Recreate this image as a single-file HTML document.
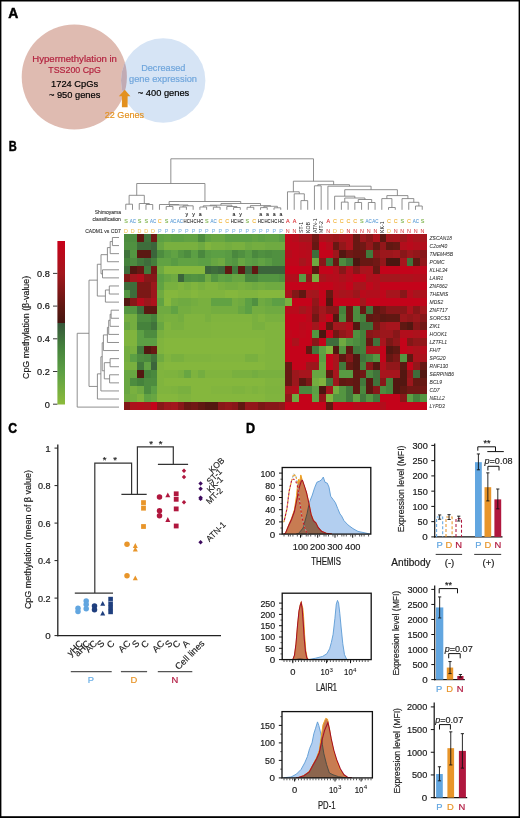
<!DOCTYPE html><html><head><meta charset="utf-8"><style>html,body{margin:0;padding:0;background:#fff;width:520px;height:818px;overflow:hidden}</style></head><body><svg width="520" height="818" viewBox="0 0 520 818" style="position:absolute;left:0;top:0;will-change:transform">
<g font-family='"Liberation Sans", sans-serif'>
<text x="8.2" y="17.8" font-size="13.9" fill="#000" text-anchor="start" font-weight="bold" font-style="normal" stroke="#000" stroke-width="0.45">A</text>
<defs><clipPath id="cl"><circle cx="74.3" cy="77" r="52.6"/></clipPath></defs>
<circle cx="74.3" cy="77" r="52.6" fill="#dfbbb1"/>
<circle cx="163.2" cy="80.5" r="42.2" fill="#d6e4f5"/>
<circle cx="163.2" cy="80.5" r="42.2" fill="#c1abb4" clip-path="url(#cl)"/>
<text x="74.6" y="61.9" font-size="9.5" fill="#b3223f" text-anchor="middle" font-weight="normal" font-style="normal" stroke="#b3223f" stroke-width="0.19" textLength="84.6" lengthAdjust="spacingAndGlyphs">Hypermethylation in</text>
<text x="74.6" y="72.8" font-size="9.5" fill="#b3223f" text-anchor="middle" font-weight="normal" font-style="normal" stroke="#b3223f" stroke-width="0.19" textLength="52.5" lengthAdjust="spacingAndGlyphs">TSS200 CpG</text>
<text x="74.6" y="87.1" font-size="9.4" fill="#000" text-anchor="middle" font-weight="normal" font-style="normal" stroke="#000" stroke-width="0.188" textLength="47" lengthAdjust="spacingAndGlyphs">1724 CpGs</text>
<text x="74.6" y="97.7" font-size="9.4" fill="#000" text-anchor="middle" font-weight="normal" font-style="normal" stroke="#000" stroke-width="0.188" textLength="51.4" lengthAdjust="spacingAndGlyphs">~ 950 genes</text>
<text x="163.3" y="70.9" font-size="9.5" fill="#70a6dc" text-anchor="middle" font-weight="normal" font-style="normal" stroke="#70a6dc" stroke-width="0.19" textLength="44.3" lengthAdjust="spacingAndGlyphs">Decreased</text>
<text x="163" y="81.8" font-size="9.5" fill="#70a6dc" text-anchor="middle" font-weight="normal" font-style="normal" stroke="#70a6dc" stroke-width="0.19" textLength="68" lengthAdjust="spacingAndGlyphs">gene expression</text>
<text x="163.5" y="95.7" font-size="9.4" fill="#000" text-anchor="middle" font-weight="normal" font-style="normal" stroke="#000" stroke-width="0.188" textLength="51.4" lengthAdjust="spacingAndGlyphs">~ 400 genes</text>
<path d="M124.8 89.8 L130.4 96.2 L127.6 96.2 L127.6 107.3 L121.9 107.3 L121.9 96.2 L118.8 96.2 Z" stroke="none" fill="#e3911f" stroke-width="1" />
<text x="124.4" y="117.8" font-size="9.5" fill="#e3911f" text-anchor="middle" font-weight="normal" font-style="normal" stroke="#e3911f" stroke-width="0.19" textLength="39.2" lengthAdjust="spacingAndGlyphs">22 Genes</text>
<text x="8.8" y="151.4" font-size="13.9" fill="#000" text-anchor="start" font-weight="bold" font-style="normal" stroke="#000" stroke-width="0.45" textLength="8.0" lengthAdjust="spacingAndGlyphs">B</text>
<g shape-rendering="crispEdges">
<rect x="123.70" y="234.00" width="7.04" height="8.29" fill="#4d8c3f"/>
<rect x="130.44" y="234.00" width="7.04" height="8.29" fill="#4d8c3f"/>
<rect x="137.18" y="234.00" width="7.04" height="8.29" fill="#601812"/>
<rect x="143.91" y="234.00" width="7.04" height="8.29" fill="#40733b"/>
<rect x="150.65" y="234.00" width="7.04" height="8.29" fill="#711815"/>
<rect x="157.39" y="234.00" width="7.04" height="8.29" fill="#5c9f44"/>
<rect x="164.13" y="234.00" width="7.04" height="8.29" fill="#61a243"/>
<rect x="170.86" y="234.00" width="7.04" height="8.29" fill="#5c9f44"/>
<rect x="177.60" y="234.00" width="7.04" height="8.29" fill="#5c9f44"/>
<rect x="184.34" y="234.00" width="7.04" height="8.29" fill="#61a243"/>
<rect x="191.08" y="234.00" width="7.04" height="8.29" fill="#61a243"/>
<rect x="197.82" y="234.00" width="7.04" height="8.29" fill="#4d8c3f"/>
<rect x="204.55" y="234.00" width="7.04" height="8.29" fill="#61a243"/>
<rect x="211.29" y="234.00" width="7.04" height="8.29" fill="#68a642"/>
<rect x="218.03" y="234.00" width="7.04" height="8.29" fill="#68a642"/>
<rect x="224.77" y="234.00" width="7.04" height="8.29" fill="#5c9f44"/>
<rect x="231.50" y="234.00" width="7.04" height="8.29" fill="#5c9f44"/>
<rect x="238.24" y="234.00" width="7.04" height="8.29" fill="#5c9f44"/>
<rect x="244.98" y="234.00" width="7.04" height="8.29" fill="#5c9f44"/>
<rect x="251.72" y="234.00" width="7.04" height="8.29" fill="#61a243"/>
<rect x="258.46" y="234.00" width="7.04" height="8.29" fill="#5c9f44"/>
<rect x="265.19" y="234.00" width="7.04" height="8.29" fill="#61a243"/>
<rect x="271.93" y="234.00" width="7.04" height="8.29" fill="#61a243"/>
<rect x="278.67" y="234.00" width="7.04" height="8.29" fill="#599b43"/>
<rect x="285.41" y="234.00" width="7.04" height="8.29" fill="#bf071b"/>
<rect x="292.14" y="234.00" width="7.04" height="8.29" fill="#b60c1c"/>
<rect x="298.88" y="234.00" width="7.04" height="8.29" fill="#a3171d"/>
<rect x="305.62" y="234.00" width="7.04" height="8.29" fill="#a3171d"/>
<rect x="312.36" y="234.00" width="7.04" height="8.29" fill="#711815"/>
<rect x="319.10" y="234.00" width="7.04" height="8.29" fill="#ac121c"/>
<rect x="325.83" y="234.00" width="7.04" height="8.29" fill="#a3171d"/>
<rect x="332.57" y="234.00" width="7.04" height="8.29" fill="#9c171c"/>
<rect x="339.31" y="234.00" width="7.04" height="8.29" fill="#a7151d"/>
<rect x="346.05" y="234.00" width="7.04" height="8.29" fill="#ac121c"/>
<rect x="352.78" y="234.00" width="7.04" height="8.29" fill="#671813"/>
<rect x="359.52" y="234.00" width="7.04" height="8.29" fill="#9c171c"/>
<rect x="366.26" y="234.00" width="7.04" height="8.29" fill="#881719"/>
<rect x="373.00" y="234.00" width="7.04" height="8.29" fill="#ac121c"/>
<rect x="379.74" y="234.00" width="7.04" height="8.29" fill="#5b1812"/>
<rect x="386.47" y="234.00" width="7.04" height="8.29" fill="#a3171d"/>
<rect x="393.21" y="234.00" width="7.04" height="8.29" fill="#a7151d"/>
<rect x="399.95" y="234.00" width="7.04" height="8.29" fill="#9c171c"/>
<rect x="406.69" y="234.00" width="7.04" height="8.29" fill="#b20e1c"/>
<rect x="413.42" y="234.00" width="7.04" height="8.29" fill="#a7151d"/>
<rect x="420.16" y="234.00" width="7.04" height="8.29" fill="#a7151d"/>
<rect x="123.70" y="241.99" width="7.04" height="8.29" fill="#509040"/>
<rect x="130.44" y="241.99" width="7.04" height="8.29" fill="#509040"/>
<rect x="137.18" y="241.99" width="7.04" height="8.29" fill="#3e6d3b"/>
<rect x="143.91" y="241.99" width="7.04" height="8.29" fill="#3e6d3b"/>
<rect x="150.65" y="241.99" width="7.04" height="8.29" fill="#3b653b"/>
<rect x="157.39" y="241.99" width="7.04" height="8.29" fill="#68a642"/>
<rect x="164.13" y="241.99" width="7.04" height="8.29" fill="#79b03f"/>
<rect x="170.86" y="241.99" width="7.04" height="8.29" fill="#79b03f"/>
<rect x="177.60" y="241.99" width="7.04" height="8.29" fill="#79b03f"/>
<rect x="184.34" y="241.99" width="7.04" height="8.29" fill="#79b03f"/>
<rect x="191.08" y="241.99" width="7.04" height="8.29" fill="#79b03f"/>
<rect x="197.82" y="241.99" width="7.04" height="8.29" fill="#6faa41"/>
<rect x="204.55" y="241.99" width="7.04" height="8.29" fill="#80b43e"/>
<rect x="211.29" y="241.99" width="7.04" height="8.29" fill="#79b03f"/>
<rect x="218.03" y="241.99" width="7.04" height="8.29" fill="#79b03f"/>
<rect x="224.77" y="241.99" width="7.04" height="8.29" fill="#74ad40"/>
<rect x="231.50" y="241.99" width="7.04" height="8.29" fill="#79b03f"/>
<rect x="238.24" y="241.99" width="7.04" height="8.29" fill="#79b03f"/>
<rect x="244.98" y="241.99" width="7.04" height="8.29" fill="#6faa41"/>
<rect x="251.72" y="241.99" width="7.04" height="8.29" fill="#74ad40"/>
<rect x="258.46" y="241.99" width="7.04" height="8.29" fill="#74ad40"/>
<rect x="265.19" y="241.99" width="7.04" height="8.29" fill="#6faa41"/>
<rect x="271.93" y="241.99" width="7.04" height="8.29" fill="#6faa41"/>
<rect x="278.67" y="241.99" width="7.04" height="8.29" fill="#6faa41"/>
<rect x="285.41" y="241.99" width="7.04" height="8.29" fill="#bf071b"/>
<rect x="292.14" y="241.99" width="7.04" height="8.29" fill="#bf071b"/>
<rect x="298.88" y="241.99" width="7.04" height="8.29" fill="#b60c1c"/>
<rect x="305.62" y="241.99" width="7.04" height="8.29" fill="#b20e1c"/>
<rect x="312.36" y="241.99" width="7.04" height="8.29" fill="#671813"/>
<rect x="319.10" y="241.99" width="7.04" height="8.29" fill="#c4031a"/>
<rect x="325.83" y="241.99" width="7.04" height="8.29" fill="#b60c1c"/>
<rect x="332.57" y="241.99" width="7.04" height="8.29" fill="#671813"/>
<rect x="339.31" y="241.99" width="7.04" height="8.29" fill="#92171a"/>
<rect x="346.05" y="241.99" width="7.04" height="8.29" fill="#ac121c"/>
<rect x="352.78" y="241.99" width="7.04" height="8.29" fill="#671813"/>
<rect x="359.52" y="241.99" width="7.04" height="8.29" fill="#711815"/>
<rect x="366.26" y="241.99" width="7.04" height="8.29" fill="#92171a"/>
<rect x="373.00" y="241.99" width="7.04" height="8.29" fill="#671813"/>
<rect x="379.74" y="241.99" width="7.04" height="8.29" fill="#92171a"/>
<rect x="386.47" y="241.99" width="7.04" height="8.29" fill="#601812"/>
<rect x="393.21" y="241.99" width="7.04" height="8.29" fill="#671813"/>
<rect x="399.95" y="241.99" width="7.04" height="8.29" fill="#b20e1c"/>
<rect x="406.69" y="241.99" width="7.04" height="8.29" fill="#b90a1b"/>
<rect x="413.42" y="241.99" width="7.04" height="8.29" fill="#b20e1c"/>
<rect x="420.16" y="241.99" width="7.04" height="8.29" fill="#b20e1c"/>
<rect x="123.70" y="249.97" width="7.04" height="8.29" fill="#40733b"/>
<rect x="130.44" y="249.97" width="7.04" height="8.29" fill="#549541"/>
<rect x="137.18" y="249.97" width="7.04" height="8.29" fill="#5b1812"/>
<rect x="143.91" y="249.97" width="7.04" height="8.29" fill="#5b1812"/>
<rect x="150.65" y="249.97" width="7.04" height="8.29" fill="#3b653b"/>
<rect x="157.39" y="249.97" width="7.04" height="8.29" fill="#4d8c3f"/>
<rect x="164.13" y="249.97" width="7.04" height="8.29" fill="#599b43"/>
<rect x="170.86" y="249.97" width="7.04" height="8.29" fill="#61a243"/>
<rect x="177.60" y="249.97" width="7.04" height="8.29" fill="#549541"/>
<rect x="184.34" y="249.97" width="7.04" height="8.29" fill="#4d8c3f"/>
<rect x="191.08" y="249.97" width="7.04" height="8.29" fill="#5c9f44"/>
<rect x="197.82" y="249.97" width="7.04" height="8.29" fill="#4a883e"/>
<rect x="204.55" y="249.97" width="7.04" height="8.29" fill="#599b43"/>
<rect x="211.29" y="249.97" width="7.04" height="8.29" fill="#5c9f44"/>
<rect x="218.03" y="249.97" width="7.04" height="8.29" fill="#5c9f44"/>
<rect x="224.77" y="249.97" width="7.04" height="8.29" fill="#599b43"/>
<rect x="231.50" y="249.97" width="7.04" height="8.29" fill="#4a883e"/>
<rect x="238.24" y="249.97" width="7.04" height="8.29" fill="#509040"/>
<rect x="244.98" y="249.97" width="7.04" height="8.29" fill="#599b43"/>
<rect x="251.72" y="249.97" width="7.04" height="8.29" fill="#4a883e"/>
<rect x="258.46" y="249.97" width="7.04" height="8.29" fill="#509040"/>
<rect x="265.19" y="249.97" width="7.04" height="8.29" fill="#4d8c3f"/>
<rect x="271.93" y="249.97" width="7.04" height="8.29" fill="#509040"/>
<rect x="278.67" y="249.97" width="7.04" height="8.29" fill="#509040"/>
<rect x="285.41" y="249.97" width="7.04" height="8.29" fill="#b60c1c"/>
<rect x="292.14" y="249.97" width="7.04" height="8.29" fill="#bf071b"/>
<rect x="298.88" y="249.97" width="7.04" height="8.29" fill="#b90a1b"/>
<rect x="305.62" y="249.97" width="7.04" height="8.29" fill="#b60c1c"/>
<rect x="312.36" y="249.97" width="7.04" height="8.29" fill="#3e6d3b"/>
<rect x="319.10" y="249.97" width="7.04" height="8.29" fill="#c4031a"/>
<rect x="325.83" y="249.97" width="7.04" height="8.29" fill="#c4031a"/>
<rect x="332.57" y="249.97" width="7.04" height="8.29" fill="#9c171c"/>
<rect x="339.31" y="249.97" width="7.04" height="8.29" fill="#531711"/>
<rect x="346.05" y="249.97" width="7.04" height="8.29" fill="#711815"/>
<rect x="352.78" y="249.97" width="7.04" height="8.29" fill="#671813"/>
<rect x="359.52" y="249.97" width="7.04" height="8.29" fill="#671813"/>
<rect x="366.26" y="249.97" width="7.04" height="8.29" fill="#42793c"/>
<rect x="373.00" y="249.97" width="7.04" height="8.29" fill="#881719"/>
<rect x="379.74" y="249.97" width="7.04" height="8.29" fill="#9c171c"/>
<rect x="386.47" y="249.97" width="7.04" height="8.29" fill="#9c171c"/>
<rect x="393.21" y="249.97" width="7.04" height="8.29" fill="#a3171d"/>
<rect x="399.95" y="249.97" width="7.04" height="8.29" fill="#881719"/>
<rect x="406.69" y="249.97" width="7.04" height="8.29" fill="#9c171c"/>
<rect x="413.42" y="249.97" width="7.04" height="8.29" fill="#92171a"/>
<rect x="420.16" y="249.97" width="7.04" height="8.29" fill="#881719"/>
<rect x="123.70" y="257.96" width="7.04" height="8.29" fill="#45823c"/>
<rect x="130.44" y="257.96" width="7.04" height="8.29" fill="#4d8c3f"/>
<rect x="137.18" y="257.96" width="7.04" height="8.29" fill="#42793c"/>
<rect x="143.91" y="257.96" width="7.04" height="8.29" fill="#3e6d3b"/>
<rect x="150.65" y="257.96" width="7.04" height="8.29" fill="#447f3c"/>
<rect x="157.39" y="257.96" width="7.04" height="8.29" fill="#61a243"/>
<rect x="164.13" y="257.96" width="7.04" height="8.29" fill="#61a243"/>
<rect x="170.86" y="257.96" width="7.04" height="8.29" fill="#599b43"/>
<rect x="177.60" y="257.96" width="7.04" height="8.29" fill="#61a243"/>
<rect x="184.34" y="257.96" width="7.04" height="8.29" fill="#61a243"/>
<rect x="191.08" y="257.96" width="7.04" height="8.29" fill="#61a243"/>
<rect x="197.82" y="257.96" width="7.04" height="8.29" fill="#5c9f44"/>
<rect x="204.55" y="257.96" width="7.04" height="8.29" fill="#5c9f44"/>
<rect x="211.29" y="257.96" width="7.04" height="8.29" fill="#68a642"/>
<rect x="218.03" y="257.96" width="7.04" height="8.29" fill="#6faa41"/>
<rect x="224.77" y="257.96" width="7.04" height="8.29" fill="#599b43"/>
<rect x="231.50" y="257.96" width="7.04" height="8.29" fill="#549541"/>
<rect x="238.24" y="257.96" width="7.04" height="8.29" fill="#68a642"/>
<rect x="244.98" y="257.96" width="7.04" height="8.29" fill="#5c9f44"/>
<rect x="251.72" y="257.96" width="7.04" height="8.29" fill="#599b43"/>
<rect x="258.46" y="257.96" width="7.04" height="8.29" fill="#61a243"/>
<rect x="265.19" y="257.96" width="7.04" height="8.29" fill="#599b43"/>
<rect x="271.93" y="257.96" width="7.04" height="8.29" fill="#509040"/>
<rect x="278.67" y="257.96" width="7.04" height="8.29" fill="#509040"/>
<rect x="285.41" y="257.96" width="7.04" height="8.29" fill="#bf071b"/>
<rect x="292.14" y="257.96" width="7.04" height="8.29" fill="#bf071b"/>
<rect x="298.88" y="257.96" width="7.04" height="8.29" fill="#a7151d"/>
<rect x="305.62" y="257.96" width="7.04" height="8.29" fill="#b60c1c"/>
<rect x="312.36" y="257.96" width="7.04" height="8.29" fill="#6faa41"/>
<rect x="319.10" y="257.96" width="7.04" height="8.29" fill="#881719"/>
<rect x="325.83" y="257.96" width="7.04" height="8.29" fill="#40733b"/>
<rect x="332.57" y="257.96" width="7.04" height="8.29" fill="#671813"/>
<rect x="339.31" y="257.96" width="7.04" height="8.29" fill="#4d8c3f"/>
<rect x="346.05" y="257.96" width="7.04" height="8.29" fill="#40733b"/>
<rect x="352.78" y="257.96" width="7.04" height="8.29" fill="#4b1610"/>
<rect x="359.52" y="257.96" width="7.04" height="8.29" fill="#671813"/>
<rect x="366.26" y="257.96" width="7.04" height="8.29" fill="#671813"/>
<rect x="373.00" y="257.96" width="7.04" height="8.29" fill="#711815"/>
<rect x="379.74" y="257.96" width="7.04" height="8.29" fill="#92171a"/>
<rect x="386.47" y="257.96" width="7.04" height="8.29" fill="#4b1610"/>
<rect x="393.21" y="257.96" width="7.04" height="8.29" fill="#4b1610"/>
<rect x="399.95" y="257.96" width="7.04" height="8.29" fill="#a7151d"/>
<rect x="406.69" y="257.96" width="7.04" height="8.29" fill="#40733b"/>
<rect x="413.42" y="257.96" width="7.04" height="8.29" fill="#601812"/>
<rect x="420.16" y="257.96" width="7.04" height="8.29" fill="#92171a"/>
<rect x="123.70" y="265.95" width="7.04" height="8.29" fill="#3e6d3b"/>
<rect x="130.44" y="265.95" width="7.04" height="8.29" fill="#531711"/>
<rect x="137.18" y="265.95" width="7.04" height="8.29" fill="#671813"/>
<rect x="143.91" y="265.95" width="7.04" height="8.29" fill="#42793c"/>
<rect x="150.65" y="265.95" width="7.04" height="8.29" fill="#711815"/>
<rect x="157.39" y="265.95" width="7.04" height="8.29" fill="#6faa41"/>
<rect x="164.13" y="265.95" width="7.04" height="8.29" fill="#85b73d"/>
<rect x="170.86" y="265.95" width="7.04" height="8.29" fill="#85b73d"/>
<rect x="177.60" y="265.95" width="7.04" height="8.29" fill="#85b73d"/>
<rect x="184.34" y="265.95" width="7.04" height="8.29" fill="#85b73d"/>
<rect x="191.08" y="265.95" width="7.04" height="8.29" fill="#85b73d"/>
<rect x="197.82" y="265.95" width="7.04" height="8.29" fill="#85b73d"/>
<rect x="204.55" y="265.95" width="7.04" height="8.29" fill="#3b653b"/>
<rect x="211.29" y="265.95" width="7.04" height="8.29" fill="#3e6d3b"/>
<rect x="218.03" y="265.95" width="7.04" height="8.29" fill="#3b653b"/>
<rect x="224.77" y="265.95" width="7.04" height="8.29" fill="#601812"/>
<rect x="231.50" y="265.95" width="7.04" height="8.29" fill="#42793c"/>
<rect x="238.24" y="265.95" width="7.04" height="8.29" fill="#5b1812"/>
<rect x="244.98" y="265.95" width="7.04" height="8.29" fill="#3b653b"/>
<rect x="251.72" y="265.95" width="7.04" height="8.29" fill="#601812"/>
<rect x="258.46" y="265.95" width="7.04" height="8.29" fill="#3b653b"/>
<rect x="265.19" y="265.95" width="7.04" height="8.29" fill="#3b653b"/>
<rect x="271.93" y="265.95" width="7.04" height="8.29" fill="#3b653b"/>
<rect x="278.67" y="265.95" width="7.04" height="8.29" fill="#3b653b"/>
<rect x="285.41" y="265.95" width="7.04" height="8.29" fill="#c8011a"/>
<rect x="292.14" y="265.95" width="7.04" height="8.29" fill="#c8011a"/>
<rect x="298.88" y="265.95" width="7.04" height="8.29" fill="#c4031a"/>
<rect x="305.62" y="265.95" width="7.04" height="8.29" fill="#c4031a"/>
<rect x="312.36" y="265.95" width="7.04" height="8.29" fill="#5b1812"/>
<rect x="319.10" y="265.95" width="7.04" height="8.29" fill="#c4031a"/>
<rect x="325.83" y="265.95" width="7.04" height="8.29" fill="#c4031a"/>
<rect x="332.57" y="265.95" width="7.04" height="8.29" fill="#b20e1c"/>
<rect x="339.31" y="265.95" width="7.04" height="8.29" fill="#881719"/>
<rect x="346.05" y="265.95" width="7.04" height="8.29" fill="#b20e1c"/>
<rect x="352.78" y="265.95" width="7.04" height="8.29" fill="#881719"/>
<rect x="359.52" y="265.95" width="7.04" height="8.29" fill="#a7151d"/>
<rect x="366.26" y="265.95" width="7.04" height="8.29" fill="#ac121c"/>
<rect x="373.00" y="265.95" width="7.04" height="8.29" fill="#671813"/>
<rect x="379.74" y="265.95" width="7.04" height="8.29" fill="#c4031a"/>
<rect x="386.47" y="265.95" width="7.04" height="8.29" fill="#c4031a"/>
<rect x="393.21" y="265.95" width="7.04" height="8.29" fill="#c4031a"/>
<rect x="399.95" y="265.95" width="7.04" height="8.29" fill="#c4031a"/>
<rect x="406.69" y="265.95" width="7.04" height="8.29" fill="#c4031a"/>
<rect x="413.42" y="265.95" width="7.04" height="8.29" fill="#bf071b"/>
<rect x="420.16" y="265.95" width="7.04" height="8.29" fill="#bf071b"/>
<rect x="123.70" y="273.93" width="7.04" height="8.29" fill="#811817"/>
<rect x="130.44" y="273.93" width="7.04" height="8.29" fill="#a3171d"/>
<rect x="137.18" y="273.93" width="7.04" height="8.29" fill="#b20e1c"/>
<rect x="143.91" y="273.93" width="7.04" height="8.29" fill="#881719"/>
<rect x="150.65" y="273.93" width="7.04" height="8.29" fill="#881719"/>
<rect x="157.39" y="273.93" width="7.04" height="8.29" fill="#5c9f44"/>
<rect x="164.13" y="273.93" width="7.04" height="8.29" fill="#68a642"/>
<rect x="170.86" y="273.93" width="7.04" height="8.29" fill="#6faa41"/>
<rect x="177.60" y="273.93" width="7.04" height="8.29" fill="#3b653b"/>
<rect x="184.34" y="273.93" width="7.04" height="8.29" fill="#509040"/>
<rect x="191.08" y="273.93" width="7.04" height="8.29" fill="#539341"/>
<rect x="197.82" y="273.93" width="7.04" height="8.29" fill="#509040"/>
<rect x="204.55" y="273.93" width="7.04" height="8.29" fill="#6faa41"/>
<rect x="211.29" y="273.93" width="7.04" height="8.29" fill="#549541"/>
<rect x="218.03" y="273.93" width="7.04" height="8.29" fill="#61a243"/>
<rect x="224.77" y="273.93" width="7.04" height="8.29" fill="#5c9f44"/>
<rect x="231.50" y="273.93" width="7.04" height="8.29" fill="#68a642"/>
<rect x="238.24" y="273.93" width="7.04" height="8.29" fill="#68a642"/>
<rect x="244.98" y="273.93" width="7.04" height="8.29" fill="#4a883e"/>
<rect x="251.72" y="273.93" width="7.04" height="8.29" fill="#4a883e"/>
<rect x="258.46" y="273.93" width="7.04" height="8.29" fill="#549541"/>
<rect x="265.19" y="273.93" width="7.04" height="8.29" fill="#549541"/>
<rect x="271.93" y="273.93" width="7.04" height="8.29" fill="#549541"/>
<rect x="278.67" y="273.93" width="7.04" height="8.29" fill="#509040"/>
<rect x="285.41" y="273.93" width="7.04" height="8.29" fill="#b20e1c"/>
<rect x="292.14" y="273.93" width="7.04" height="8.29" fill="#b20e1c"/>
<rect x="298.88" y="273.93" width="7.04" height="8.29" fill="#599b43"/>
<rect x="305.62" y="273.93" width="7.04" height="8.29" fill="#92171a"/>
<rect x="312.36" y="273.93" width="7.04" height="8.29" fill="#79b03f"/>
<rect x="319.10" y="273.93" width="7.04" height="8.29" fill="#a7151d"/>
<rect x="325.83" y="273.93" width="7.04" height="8.29" fill="#b20e1c"/>
<rect x="332.57" y="273.93" width="7.04" height="8.29" fill="#b60c1c"/>
<rect x="339.31" y="273.93" width="7.04" height="8.29" fill="#ac121c"/>
<rect x="346.05" y="273.93" width="7.04" height="8.29" fill="#b60c1c"/>
<rect x="352.78" y="273.93" width="7.04" height="8.29" fill="#c4031a"/>
<rect x="359.52" y="273.93" width="7.04" height="8.29" fill="#c4031a"/>
<rect x="366.26" y="273.93" width="7.04" height="8.29" fill="#ac121c"/>
<rect x="373.00" y="273.93" width="7.04" height="8.29" fill="#b20e1c"/>
<rect x="379.74" y="273.93" width="7.04" height="8.29" fill="#a3171d"/>
<rect x="386.47" y="273.93" width="7.04" height="8.29" fill="#a3171d"/>
<rect x="393.21" y="273.93" width="7.04" height="8.29" fill="#a3171d"/>
<rect x="399.95" y="273.93" width="7.04" height="8.29" fill="#ac121c"/>
<rect x="406.69" y="273.93" width="7.04" height="8.29" fill="#ac121c"/>
<rect x="413.42" y="273.93" width="7.04" height="8.29" fill="#b20e1c"/>
<rect x="420.16" y="273.93" width="7.04" height="8.29" fill="#b20e1c"/>
<rect x="123.70" y="281.92" width="7.04" height="8.29" fill="#3e6d3b"/>
<rect x="130.44" y="281.92" width="7.04" height="8.29" fill="#3e6d3b"/>
<rect x="137.18" y="281.92" width="7.04" height="8.29" fill="#7b1816"/>
<rect x="143.91" y="281.92" width="7.04" height="8.29" fill="#7b1816"/>
<rect x="150.65" y="281.92" width="7.04" height="8.29" fill="#9c171c"/>
<rect x="157.39" y="281.92" width="7.04" height="8.29" fill="#61a243"/>
<rect x="164.13" y="281.92" width="7.04" height="8.29" fill="#79b03f"/>
<rect x="170.86" y="281.92" width="7.04" height="8.29" fill="#79b03f"/>
<rect x="177.60" y="281.92" width="7.04" height="8.29" fill="#80b43e"/>
<rect x="184.34" y="281.92" width="7.04" height="8.29" fill="#79b03f"/>
<rect x="191.08" y="281.92" width="7.04" height="8.29" fill="#80b43e"/>
<rect x="197.82" y="281.92" width="7.04" height="8.29" fill="#79b03f"/>
<rect x="204.55" y="281.92" width="7.04" height="8.29" fill="#80b43e"/>
<rect x="211.29" y="281.92" width="7.04" height="8.29" fill="#80b43e"/>
<rect x="218.03" y="281.92" width="7.04" height="8.29" fill="#79b03f"/>
<rect x="224.77" y="281.92" width="7.04" height="8.29" fill="#74ad40"/>
<rect x="231.50" y="281.92" width="7.04" height="8.29" fill="#74ad40"/>
<rect x="238.24" y="281.92" width="7.04" height="8.29" fill="#79b03f"/>
<rect x="244.98" y="281.92" width="7.04" height="8.29" fill="#74ad40"/>
<rect x="251.72" y="281.92" width="7.04" height="8.29" fill="#6faa41"/>
<rect x="258.46" y="281.92" width="7.04" height="8.29" fill="#74ad40"/>
<rect x="265.19" y="281.92" width="7.04" height="8.29" fill="#6faa41"/>
<rect x="271.93" y="281.92" width="7.04" height="8.29" fill="#6faa41"/>
<rect x="278.67" y="281.92" width="7.04" height="8.29" fill="#6faa41"/>
<rect x="285.41" y="281.92" width="7.04" height="8.29" fill="#c4031a"/>
<rect x="292.14" y="281.92" width="7.04" height="8.29" fill="#c4031a"/>
<rect x="298.88" y="281.92" width="7.04" height="8.29" fill="#c4031a"/>
<rect x="305.62" y="281.92" width="7.04" height="8.29" fill="#c4031a"/>
<rect x="312.36" y="281.92" width="7.04" height="8.29" fill="#bf071b"/>
<rect x="319.10" y="281.92" width="7.04" height="8.29" fill="#c4031a"/>
<rect x="325.83" y="281.92" width="7.04" height="8.29" fill="#c4031a"/>
<rect x="332.57" y="281.92" width="7.04" height="8.29" fill="#b90a1b"/>
<rect x="339.31" y="281.92" width="7.04" height="8.29" fill="#b60c1c"/>
<rect x="346.05" y="281.92" width="7.04" height="8.29" fill="#c4031a"/>
<rect x="352.78" y="281.92" width="7.04" height="8.29" fill="#a7151d"/>
<rect x="359.52" y="281.92" width="7.04" height="8.29" fill="#a7151d"/>
<rect x="366.26" y="281.92" width="7.04" height="8.29" fill="#bf071b"/>
<rect x="373.00" y="281.92" width="7.04" height="8.29" fill="#b20e1c"/>
<rect x="379.74" y="281.92" width="7.04" height="8.29" fill="#c4031a"/>
<rect x="386.47" y="281.92" width="7.04" height="8.29" fill="#c4031a"/>
<rect x="393.21" y="281.92" width="7.04" height="8.29" fill="#c4031a"/>
<rect x="399.95" y="281.92" width="7.04" height="8.29" fill="#c4031a"/>
<rect x="406.69" y="281.92" width="7.04" height="8.29" fill="#c4031a"/>
<rect x="413.42" y="281.92" width="7.04" height="8.29" fill="#c4031a"/>
<rect x="420.16" y="281.92" width="7.04" height="8.29" fill="#c4031a"/>
<rect x="123.70" y="289.90" width="7.04" height="8.29" fill="#549541"/>
<rect x="130.44" y="289.90" width="7.04" height="8.29" fill="#3e6d3b"/>
<rect x="137.18" y="289.90" width="7.04" height="8.29" fill="#7b1816"/>
<rect x="143.91" y="289.90" width="7.04" height="8.29" fill="#7b1816"/>
<rect x="150.65" y="289.90" width="7.04" height="8.29" fill="#9c171c"/>
<rect x="157.39" y="289.90" width="7.04" height="8.29" fill="#6faa41"/>
<rect x="164.13" y="289.90" width="7.04" height="8.29" fill="#85b73d"/>
<rect x="170.86" y="289.90" width="7.04" height="8.29" fill="#85b73d"/>
<rect x="177.60" y="289.90" width="7.04" height="8.29" fill="#80b43e"/>
<rect x="184.34" y="289.90" width="7.04" height="8.29" fill="#80b43e"/>
<rect x="191.08" y="289.90" width="7.04" height="8.29" fill="#85b73d"/>
<rect x="197.82" y="289.90" width="7.04" height="8.29" fill="#80b43e"/>
<rect x="204.55" y="289.90" width="7.04" height="8.29" fill="#80b43e"/>
<rect x="211.29" y="289.90" width="7.04" height="8.29" fill="#80b43e"/>
<rect x="218.03" y="289.90" width="7.04" height="8.29" fill="#80b43e"/>
<rect x="224.77" y="289.90" width="7.04" height="8.29" fill="#85b73d"/>
<rect x="231.50" y="289.90" width="7.04" height="8.29" fill="#85b73d"/>
<rect x="238.24" y="289.90" width="7.04" height="8.29" fill="#80b43e"/>
<rect x="244.98" y="289.90" width="7.04" height="8.29" fill="#80b43e"/>
<rect x="251.72" y="289.90" width="7.04" height="8.29" fill="#80b43e"/>
<rect x="258.46" y="289.90" width="7.04" height="8.29" fill="#85b73d"/>
<rect x="265.19" y="289.90" width="7.04" height="8.29" fill="#85b73d"/>
<rect x="271.93" y="289.90" width="7.04" height="8.29" fill="#85b73d"/>
<rect x="278.67" y="289.90" width="7.04" height="8.29" fill="#85b73d"/>
<rect x="285.41" y="289.90" width="7.04" height="8.29" fill="#ac121c"/>
<rect x="292.14" y="289.90" width="7.04" height="8.29" fill="#811817"/>
<rect x="298.88" y="289.90" width="7.04" height="8.29" fill="#601812"/>
<rect x="305.62" y="289.90" width="7.04" height="8.29" fill="#a7151d"/>
<rect x="312.36" y="289.90" width="7.04" height="8.29" fill="#a3171d"/>
<rect x="319.10" y="289.90" width="7.04" height="8.29" fill="#c4031a"/>
<rect x="325.83" y="289.90" width="7.04" height="8.29" fill="#671813"/>
<rect x="332.57" y="289.90" width="7.04" height="8.29" fill="#b20e1c"/>
<rect x="339.31" y="289.90" width="7.04" height="8.29" fill="#a7151d"/>
<rect x="346.05" y="289.90" width="7.04" height="8.29" fill="#ac121c"/>
<rect x="352.78" y="289.90" width="7.04" height="8.29" fill="#9c171c"/>
<rect x="359.52" y="289.90" width="7.04" height="8.29" fill="#b90a1b"/>
<rect x="366.26" y="289.90" width="7.04" height="8.29" fill="#b20e1c"/>
<rect x="373.00" y="289.90" width="7.04" height="8.29" fill="#b20e1c"/>
<rect x="379.74" y="289.90" width="7.04" height="8.29" fill="#bf071b"/>
<rect x="386.47" y="289.90" width="7.04" height="8.29" fill="#a7151d"/>
<rect x="393.21" y="289.90" width="7.04" height="8.29" fill="#a7151d"/>
<rect x="399.95" y="289.90" width="7.04" height="8.29" fill="#881719"/>
<rect x="406.69" y="289.90" width="7.04" height="8.29" fill="#b60c1c"/>
<rect x="413.42" y="289.90" width="7.04" height="8.29" fill="#a7151d"/>
<rect x="420.16" y="289.90" width="7.04" height="8.29" fill="#ac121c"/>
<rect x="123.70" y="297.89" width="7.04" height="8.29" fill="#531711"/>
<rect x="130.44" y="297.89" width="7.04" height="8.29" fill="#881719"/>
<rect x="137.18" y="297.89" width="7.04" height="8.29" fill="#b60c1c"/>
<rect x="143.91" y="297.89" width="7.04" height="8.29" fill="#9c171c"/>
<rect x="150.65" y="297.89" width="7.04" height="8.29" fill="#ac121c"/>
<rect x="157.39" y="297.89" width="7.04" height="8.29" fill="#61a243"/>
<rect x="164.13" y="297.89" width="7.04" height="8.29" fill="#87b83d"/>
<rect x="170.86" y="297.89" width="7.04" height="8.29" fill="#74ad40"/>
<rect x="177.60" y="297.89" width="7.04" height="8.29" fill="#6faa41"/>
<rect x="184.34" y="297.89" width="7.04" height="8.29" fill="#6faa41"/>
<rect x="191.08" y="297.89" width="7.04" height="8.29" fill="#74ad40"/>
<rect x="197.82" y="297.89" width="7.04" height="8.29" fill="#79b03f"/>
<rect x="204.55" y="297.89" width="7.04" height="8.29" fill="#79b03f"/>
<rect x="211.29" y="297.89" width="7.04" height="8.29" fill="#61a243"/>
<rect x="218.03" y="297.89" width="7.04" height="8.29" fill="#61a243"/>
<rect x="224.77" y="297.89" width="7.04" height="8.29" fill="#61a243"/>
<rect x="231.50" y="297.89" width="7.04" height="8.29" fill="#74ad40"/>
<rect x="238.24" y="297.89" width="7.04" height="8.29" fill="#6faa41"/>
<rect x="244.98" y="297.89" width="7.04" height="8.29" fill="#5c9f44"/>
<rect x="251.72" y="297.89" width="7.04" height="8.29" fill="#509040"/>
<rect x="258.46" y="297.89" width="7.04" height="8.29" fill="#6faa41"/>
<rect x="265.19" y="297.89" width="7.04" height="8.29" fill="#68a642"/>
<rect x="271.93" y="297.89" width="7.04" height="8.29" fill="#5c9f44"/>
<rect x="278.67" y="297.89" width="7.04" height="8.29" fill="#5c9f44"/>
<rect x="285.41" y="297.89" width="7.04" height="8.29" fill="#79b03f"/>
<rect x="292.14" y="297.89" width="7.04" height="8.29" fill="#c4031a"/>
<rect x="298.88" y="297.89" width="7.04" height="8.29" fill="#c4031a"/>
<rect x="305.62" y="297.89" width="7.04" height="8.29" fill="#c4031a"/>
<rect x="312.36" y="297.89" width="7.04" height="8.29" fill="#92171a"/>
<rect x="319.10" y="297.89" width="7.04" height="8.29" fill="#c4031a"/>
<rect x="325.83" y="297.89" width="7.04" height="8.29" fill="#531711"/>
<rect x="332.57" y="297.89" width="7.04" height="8.29" fill="#c4031a"/>
<rect x="339.31" y="297.89" width="7.04" height="8.29" fill="#c4031a"/>
<rect x="346.05" y="297.89" width="7.04" height="8.29" fill="#c4031a"/>
<rect x="352.78" y="297.89" width="7.04" height="8.29" fill="#c4031a"/>
<rect x="359.52" y="297.89" width="7.04" height="8.29" fill="#a3171d"/>
<rect x="366.26" y="297.89" width="7.04" height="8.29" fill="#c4031a"/>
<rect x="373.00" y="297.89" width="7.04" height="8.29" fill="#c4031a"/>
<rect x="379.74" y="297.89" width="7.04" height="8.29" fill="#c4031a"/>
<rect x="386.47" y="297.89" width="7.04" height="8.29" fill="#c4031a"/>
<rect x="393.21" y="297.89" width="7.04" height="8.29" fill="#c4031a"/>
<rect x="399.95" y="297.89" width="7.04" height="8.29" fill="#c4031a"/>
<rect x="406.69" y="297.89" width="7.04" height="8.29" fill="#c4031a"/>
<rect x="413.42" y="297.89" width="7.04" height="8.29" fill="#c4031a"/>
<rect x="420.16" y="297.89" width="7.04" height="8.29" fill="#bf071b"/>
<rect x="123.70" y="305.88" width="7.04" height="8.29" fill="#549541"/>
<rect x="130.44" y="305.88" width="7.04" height="8.29" fill="#549541"/>
<rect x="137.18" y="305.88" width="7.04" height="8.29" fill="#3e6d3b"/>
<rect x="143.91" y="305.88" width="7.04" height="8.29" fill="#5b1812"/>
<rect x="150.65" y="305.88" width="7.04" height="8.29" fill="#5b1812"/>
<rect x="157.39" y="305.88" width="7.04" height="8.29" fill="#6faa41"/>
<rect x="164.13" y="305.88" width="7.04" height="8.29" fill="#6faa41"/>
<rect x="170.86" y="305.88" width="7.04" height="8.29" fill="#61a243"/>
<rect x="177.60" y="305.88" width="7.04" height="8.29" fill="#74ad40"/>
<rect x="184.34" y="305.88" width="7.04" height="8.29" fill="#74ad40"/>
<rect x="191.08" y="305.88" width="7.04" height="8.29" fill="#79b03f"/>
<rect x="197.82" y="305.88" width="7.04" height="8.29" fill="#79b03f"/>
<rect x="204.55" y="305.88" width="7.04" height="8.29" fill="#79b03f"/>
<rect x="211.29" y="305.88" width="7.04" height="8.29" fill="#74ad40"/>
<rect x="218.03" y="305.88" width="7.04" height="8.29" fill="#74ad40"/>
<rect x="224.77" y="305.88" width="7.04" height="8.29" fill="#74ad40"/>
<rect x="231.50" y="305.88" width="7.04" height="8.29" fill="#74ad40"/>
<rect x="238.24" y="305.88" width="7.04" height="8.29" fill="#68a642"/>
<rect x="244.98" y="305.88" width="7.04" height="8.29" fill="#5c9f44"/>
<rect x="251.72" y="305.88" width="7.04" height="8.29" fill="#74ad40"/>
<rect x="258.46" y="305.88" width="7.04" height="8.29" fill="#74ad40"/>
<rect x="265.19" y="305.88" width="7.04" height="8.29" fill="#6faa41"/>
<rect x="271.93" y="305.88" width="7.04" height="8.29" fill="#6faa41"/>
<rect x="278.67" y="305.88" width="7.04" height="8.29" fill="#6faa41"/>
<rect x="285.41" y="305.88" width="7.04" height="8.29" fill="#b90a1b"/>
<rect x="292.14" y="305.88" width="7.04" height="8.29" fill="#b90a1b"/>
<rect x="298.88" y="305.88" width="7.04" height="8.29" fill="#a3171d"/>
<rect x="305.62" y="305.88" width="7.04" height="8.29" fill="#b20e1c"/>
<rect x="312.36" y="305.88" width="7.04" height="8.29" fill="#881719"/>
<rect x="319.10" y="305.88" width="7.04" height="8.29" fill="#a3171d"/>
<rect x="325.83" y="305.88" width="7.04" height="8.29" fill="#881719"/>
<rect x="332.57" y="305.88" width="7.04" height="8.29" fill="#881719"/>
<rect x="339.31" y="305.88" width="7.04" height="8.29" fill="#45823c"/>
<rect x="346.05" y="305.88" width="7.04" height="8.29" fill="#671813"/>
<rect x="352.78" y="305.88" width="7.04" height="8.29" fill="#4d8c3f"/>
<rect x="359.52" y="305.88" width="7.04" height="8.29" fill="#671813"/>
<rect x="366.26" y="305.88" width="7.04" height="8.29" fill="#40733b"/>
<rect x="373.00" y="305.88" width="7.04" height="8.29" fill="#601812"/>
<rect x="379.74" y="305.88" width="7.04" height="8.29" fill="#711815"/>
<rect x="386.47" y="305.88" width="7.04" height="8.29" fill="#881719"/>
<rect x="393.21" y="305.88" width="7.04" height="8.29" fill="#881719"/>
<rect x="399.95" y="305.88" width="7.04" height="8.29" fill="#881719"/>
<rect x="406.69" y="305.88" width="7.04" height="8.29" fill="#ac121c"/>
<rect x="413.42" y="305.88" width="7.04" height="8.29" fill="#881719"/>
<rect x="420.16" y="305.88" width="7.04" height="8.29" fill="#a3171d"/>
<rect x="123.70" y="313.86" width="7.04" height="8.29" fill="#74ad40"/>
<rect x="130.44" y="313.86" width="7.04" height="8.29" fill="#74ad40"/>
<rect x="137.18" y="313.86" width="7.04" height="8.29" fill="#4d8c3f"/>
<rect x="143.91" y="313.86" width="7.04" height="8.29" fill="#4d8c3f"/>
<rect x="150.65" y="313.86" width="7.04" height="8.29" fill="#45823c"/>
<rect x="157.39" y="313.86" width="7.04" height="8.29" fill="#74ad40"/>
<rect x="164.13" y="313.86" width="7.04" height="8.29" fill="#79b03f"/>
<rect x="170.86" y="313.86" width="7.04" height="8.29" fill="#79b03f"/>
<rect x="177.60" y="313.86" width="7.04" height="8.29" fill="#74ad40"/>
<rect x="184.34" y="313.86" width="7.04" height="8.29" fill="#80b43e"/>
<rect x="191.08" y="313.86" width="7.04" height="8.29" fill="#80b43e"/>
<rect x="197.82" y="313.86" width="7.04" height="8.29" fill="#80b43e"/>
<rect x="204.55" y="313.86" width="7.04" height="8.29" fill="#79b03f"/>
<rect x="211.29" y="313.86" width="7.04" height="8.29" fill="#80b43e"/>
<rect x="218.03" y="313.86" width="7.04" height="8.29" fill="#80b43e"/>
<rect x="224.77" y="313.86" width="7.04" height="8.29" fill="#80b43e"/>
<rect x="231.50" y="313.86" width="7.04" height="8.29" fill="#80b43e"/>
<rect x="238.24" y="313.86" width="7.04" height="8.29" fill="#80b43e"/>
<rect x="244.98" y="313.86" width="7.04" height="8.29" fill="#80b43e"/>
<rect x="251.72" y="313.86" width="7.04" height="8.29" fill="#79b03f"/>
<rect x="258.46" y="313.86" width="7.04" height="8.29" fill="#80b43e"/>
<rect x="265.19" y="313.86" width="7.04" height="8.29" fill="#79b03f"/>
<rect x="271.93" y="313.86" width="7.04" height="8.29" fill="#79b03f"/>
<rect x="278.67" y="313.86" width="7.04" height="8.29" fill="#79b03f"/>
<rect x="285.41" y="313.86" width="7.04" height="8.29" fill="#c4031a"/>
<rect x="292.14" y="313.86" width="7.04" height="8.29" fill="#c4031a"/>
<rect x="298.88" y="313.86" width="7.04" height="8.29" fill="#c4031a"/>
<rect x="305.62" y="313.86" width="7.04" height="8.29" fill="#b90a1b"/>
<rect x="312.36" y="313.86" width="7.04" height="8.29" fill="#711815"/>
<rect x="319.10" y="313.86" width="7.04" height="8.29" fill="#ac121c"/>
<rect x="325.83" y="313.86" width="7.04" height="8.29" fill="#c4031a"/>
<rect x="332.57" y="313.86" width="7.04" height="8.29" fill="#531711"/>
<rect x="339.31" y="313.86" width="7.04" height="8.29" fill="#4d8c3f"/>
<rect x="346.05" y="313.86" width="7.04" height="8.29" fill="#671813"/>
<rect x="352.78" y="313.86" width="7.04" height="8.29" fill="#4d8c3f"/>
<rect x="359.52" y="313.86" width="7.04" height="8.29" fill="#45823c"/>
<rect x="366.26" y="313.86" width="7.04" height="8.29" fill="#601812"/>
<rect x="373.00" y="313.86" width="7.04" height="8.29" fill="#671813"/>
<rect x="379.74" y="313.86" width="7.04" height="8.29" fill="#5b1812"/>
<rect x="386.47" y="313.86" width="7.04" height="8.29" fill="#601812"/>
<rect x="393.21" y="313.86" width="7.04" height="8.29" fill="#601812"/>
<rect x="399.95" y="313.86" width="7.04" height="8.29" fill="#9c171c"/>
<rect x="406.69" y="313.86" width="7.04" height="8.29" fill="#92171a"/>
<rect x="413.42" y="313.86" width="7.04" height="8.29" fill="#9c171c"/>
<rect x="420.16" y="313.86" width="7.04" height="8.29" fill="#881719"/>
<rect x="123.70" y="321.85" width="7.04" height="8.29" fill="#68a642"/>
<rect x="130.44" y="321.85" width="7.04" height="8.29" fill="#74ad40"/>
<rect x="137.18" y="321.85" width="7.04" height="8.29" fill="#45823c"/>
<rect x="143.91" y="321.85" width="7.04" height="8.29" fill="#45823c"/>
<rect x="150.65" y="321.85" width="7.04" height="8.29" fill="#40733b"/>
<rect x="157.39" y="321.85" width="7.04" height="8.29" fill="#68a642"/>
<rect x="164.13" y="321.85" width="7.04" height="8.29" fill="#80b43e"/>
<rect x="170.86" y="321.85" width="7.04" height="8.29" fill="#79b03f"/>
<rect x="177.60" y="321.85" width="7.04" height="8.29" fill="#79b03f"/>
<rect x="184.34" y="321.85" width="7.04" height="8.29" fill="#80b43e"/>
<rect x="191.08" y="321.85" width="7.04" height="8.29" fill="#80b43e"/>
<rect x="197.82" y="321.85" width="7.04" height="8.29" fill="#80b43e"/>
<rect x="204.55" y="321.85" width="7.04" height="8.29" fill="#80b43e"/>
<rect x="211.29" y="321.85" width="7.04" height="8.29" fill="#82b53e"/>
<rect x="218.03" y="321.85" width="7.04" height="8.29" fill="#82b53e"/>
<rect x="224.77" y="321.85" width="7.04" height="8.29" fill="#82b53e"/>
<rect x="231.50" y="321.85" width="7.04" height="8.29" fill="#82b53e"/>
<rect x="238.24" y="321.85" width="7.04" height="8.29" fill="#82b53e"/>
<rect x="244.98" y="321.85" width="7.04" height="8.29" fill="#82b53e"/>
<rect x="251.72" y="321.85" width="7.04" height="8.29" fill="#79b03f"/>
<rect x="258.46" y="321.85" width="7.04" height="8.29" fill="#79b03f"/>
<rect x="265.19" y="321.85" width="7.04" height="8.29" fill="#80b43e"/>
<rect x="271.93" y="321.85" width="7.04" height="8.29" fill="#80b43e"/>
<rect x="278.67" y="321.85" width="7.04" height="8.29" fill="#80b43e"/>
<rect x="285.41" y="321.85" width="7.04" height="8.29" fill="#c4031a"/>
<rect x="292.14" y="321.85" width="7.04" height="8.29" fill="#c4031a"/>
<rect x="298.88" y="321.85" width="7.04" height="8.29" fill="#b90a1b"/>
<rect x="305.62" y="321.85" width="7.04" height="8.29" fill="#bf071b"/>
<rect x="312.36" y="321.85" width="7.04" height="8.29" fill="#a3171d"/>
<rect x="319.10" y="321.85" width="7.04" height="8.29" fill="#c4031a"/>
<rect x="325.83" y="321.85" width="7.04" height="8.29" fill="#601812"/>
<rect x="332.57" y="321.85" width="7.04" height="8.29" fill="#a3171d"/>
<rect x="339.31" y="321.85" width="7.04" height="8.29" fill="#a3171d"/>
<rect x="346.05" y="321.85" width="7.04" height="8.29" fill="#b20e1c"/>
<rect x="352.78" y="321.85" width="7.04" height="8.29" fill="#531711"/>
<rect x="359.52" y="321.85" width="7.04" height="8.29" fill="#40733b"/>
<rect x="366.26" y="321.85" width="7.04" height="8.29" fill="#40733b"/>
<rect x="373.00" y="321.85" width="7.04" height="8.29" fill="#7b1816"/>
<rect x="379.74" y="321.85" width="7.04" height="8.29" fill="#9c171c"/>
<rect x="386.47" y="321.85" width="7.04" height="8.29" fill="#a7151d"/>
<rect x="393.21" y="321.85" width="7.04" height="8.29" fill="#a7151d"/>
<rect x="399.95" y="321.85" width="7.04" height="8.29" fill="#601812"/>
<rect x="406.69" y="321.85" width="7.04" height="8.29" fill="#531711"/>
<rect x="413.42" y="321.85" width="7.04" height="8.29" fill="#881719"/>
<rect x="420.16" y="321.85" width="7.04" height="8.29" fill="#711815"/>
<rect x="123.70" y="329.84" width="7.04" height="8.29" fill="#80b43e"/>
<rect x="130.44" y="329.84" width="7.04" height="8.29" fill="#80b43e"/>
<rect x="137.18" y="329.84" width="7.04" height="8.29" fill="#5c9f44"/>
<rect x="143.91" y="329.84" width="7.04" height="8.29" fill="#4d8c3f"/>
<rect x="150.65" y="329.84" width="7.04" height="8.29" fill="#4d8c3f"/>
<rect x="157.39" y="329.84" width="7.04" height="8.29" fill="#79b03f"/>
<rect x="164.13" y="329.84" width="7.04" height="8.29" fill="#80b43e"/>
<rect x="170.86" y="329.84" width="7.04" height="8.29" fill="#80b43e"/>
<rect x="177.60" y="329.84" width="7.04" height="8.29" fill="#80b43e"/>
<rect x="184.34" y="329.84" width="7.04" height="8.29" fill="#80b43e"/>
<rect x="191.08" y="329.84" width="7.04" height="8.29" fill="#80b43e"/>
<rect x="197.82" y="329.84" width="7.04" height="8.29" fill="#80b43e"/>
<rect x="204.55" y="329.84" width="7.04" height="8.29" fill="#80b43e"/>
<rect x="211.29" y="329.84" width="7.04" height="8.29" fill="#82b53e"/>
<rect x="218.03" y="329.84" width="7.04" height="8.29" fill="#82b53e"/>
<rect x="224.77" y="329.84" width="7.04" height="8.29" fill="#82b53e"/>
<rect x="231.50" y="329.84" width="7.04" height="8.29" fill="#82b53e"/>
<rect x="238.24" y="329.84" width="7.04" height="8.29" fill="#82b53e"/>
<rect x="244.98" y="329.84" width="7.04" height="8.29" fill="#82b53e"/>
<rect x="251.72" y="329.84" width="7.04" height="8.29" fill="#82b53e"/>
<rect x="258.46" y="329.84" width="7.04" height="8.29" fill="#82b53e"/>
<rect x="265.19" y="329.84" width="7.04" height="8.29" fill="#80b43e"/>
<rect x="271.93" y="329.84" width="7.04" height="8.29" fill="#80b43e"/>
<rect x="278.67" y="329.84" width="7.04" height="8.29" fill="#80b43e"/>
<rect x="285.41" y="329.84" width="7.04" height="8.29" fill="#bf071b"/>
<rect x="292.14" y="329.84" width="7.04" height="8.29" fill="#c4031a"/>
<rect x="298.88" y="329.84" width="7.04" height="8.29" fill="#bf071b"/>
<rect x="305.62" y="329.84" width="7.04" height="8.29" fill="#c4031a"/>
<rect x="312.36" y="329.84" width="7.04" height="8.29" fill="#549541"/>
<rect x="319.10" y="329.84" width="7.04" height="8.29" fill="#4b1610"/>
<rect x="325.83" y="329.84" width="7.04" height="8.29" fill="#c4031a"/>
<rect x="332.57" y="329.84" width="7.04" height="8.29" fill="#711815"/>
<rect x="339.31" y="329.84" width="7.04" height="8.29" fill="#92171a"/>
<rect x="346.05" y="329.84" width="7.04" height="8.29" fill="#a3171d"/>
<rect x="352.78" y="329.84" width="7.04" height="8.29" fill="#509040"/>
<rect x="359.52" y="329.84" width="7.04" height="8.29" fill="#45823c"/>
<rect x="366.26" y="329.84" width="7.04" height="8.29" fill="#881719"/>
<rect x="373.00" y="329.84" width="7.04" height="8.29" fill="#92171a"/>
<rect x="379.74" y="329.84" width="7.04" height="8.29" fill="#9c171c"/>
<rect x="386.47" y="329.84" width="7.04" height="8.29" fill="#9c171c"/>
<rect x="393.21" y="329.84" width="7.04" height="8.29" fill="#881719"/>
<rect x="399.95" y="329.84" width="7.04" height="8.29" fill="#b20e1c"/>
<rect x="406.69" y="329.84" width="7.04" height="8.29" fill="#b20e1c"/>
<rect x="413.42" y="329.84" width="7.04" height="8.29" fill="#ac121c"/>
<rect x="420.16" y="329.84" width="7.04" height="8.29" fill="#b90a1b"/>
<rect x="123.70" y="337.82" width="7.04" height="8.29" fill="#80b43e"/>
<rect x="130.44" y="337.82" width="7.04" height="8.29" fill="#80b43e"/>
<rect x="137.18" y="337.82" width="7.04" height="8.29" fill="#5c9f44"/>
<rect x="143.91" y="337.82" width="7.04" height="8.29" fill="#5c9f44"/>
<rect x="150.65" y="337.82" width="7.04" height="8.29" fill="#5c9f44"/>
<rect x="157.39" y="337.82" width="7.04" height="8.29" fill="#80b43e"/>
<rect x="164.13" y="337.82" width="7.04" height="8.29" fill="#85b73d"/>
<rect x="170.86" y="337.82" width="7.04" height="8.29" fill="#85b73d"/>
<rect x="177.60" y="337.82" width="7.04" height="8.29" fill="#85b73d"/>
<rect x="184.34" y="337.82" width="7.04" height="8.29" fill="#85b73d"/>
<rect x="191.08" y="337.82" width="7.04" height="8.29" fill="#85b73d"/>
<rect x="197.82" y="337.82" width="7.04" height="8.29" fill="#85b73d"/>
<rect x="204.55" y="337.82" width="7.04" height="8.29" fill="#85b73d"/>
<rect x="211.29" y="337.82" width="7.04" height="8.29" fill="#85b73d"/>
<rect x="218.03" y="337.82" width="7.04" height="8.29" fill="#85b73d"/>
<rect x="224.77" y="337.82" width="7.04" height="8.29" fill="#85b73d"/>
<rect x="231.50" y="337.82" width="7.04" height="8.29" fill="#85b73d"/>
<rect x="238.24" y="337.82" width="7.04" height="8.29" fill="#85b73d"/>
<rect x="244.98" y="337.82" width="7.04" height="8.29" fill="#85b73d"/>
<rect x="251.72" y="337.82" width="7.04" height="8.29" fill="#85b73d"/>
<rect x="258.46" y="337.82" width="7.04" height="8.29" fill="#85b73d"/>
<rect x="265.19" y="337.82" width="7.04" height="8.29" fill="#80b43e"/>
<rect x="271.93" y="337.82" width="7.04" height="8.29" fill="#80b43e"/>
<rect x="278.67" y="337.82" width="7.04" height="8.29" fill="#80b43e"/>
<rect x="285.41" y="337.82" width="7.04" height="8.29" fill="#c4031a"/>
<rect x="292.14" y="337.82" width="7.04" height="8.29" fill="#ac121c"/>
<rect x="298.88" y="337.82" width="7.04" height="8.29" fill="#c4031a"/>
<rect x="305.62" y="337.82" width="7.04" height="8.29" fill="#c4031a"/>
<rect x="312.36" y="337.82" width="7.04" height="8.29" fill="#881719"/>
<rect x="319.10" y="337.82" width="7.04" height="8.29" fill="#c4031a"/>
<rect x="325.83" y="337.82" width="7.04" height="8.29" fill="#3e6d3b"/>
<rect x="332.57" y="337.82" width="7.04" height="8.29" fill="#3e6d3b"/>
<rect x="339.31" y="337.82" width="7.04" height="8.29" fill="#6faa41"/>
<rect x="346.05" y="337.82" width="7.04" height="8.29" fill="#549541"/>
<rect x="352.78" y="337.82" width="7.04" height="8.29" fill="#4d8c3f"/>
<rect x="359.52" y="337.82" width="7.04" height="8.29" fill="#45823c"/>
<rect x="366.26" y="337.82" width="7.04" height="8.29" fill="#671813"/>
<rect x="373.00" y="337.82" width="7.04" height="8.29" fill="#40733b"/>
<rect x="379.74" y="337.82" width="7.04" height="8.29" fill="#a7151d"/>
<rect x="386.47" y="337.82" width="7.04" height="8.29" fill="#7b1816"/>
<rect x="393.21" y="337.82" width="7.04" height="8.29" fill="#92171a"/>
<rect x="399.95" y="337.82" width="7.04" height="8.29" fill="#c4031a"/>
<rect x="406.69" y="337.82" width="7.04" height="8.29" fill="#811817"/>
<rect x="413.42" y="337.82" width="7.04" height="8.29" fill="#92171a"/>
<rect x="420.16" y="337.82" width="7.04" height="8.29" fill="#92171a"/>
<rect x="123.70" y="345.81" width="7.04" height="8.29" fill="#74ad40"/>
<rect x="130.44" y="345.81" width="7.04" height="8.29" fill="#79b03f"/>
<rect x="137.18" y="345.81" width="7.04" height="8.29" fill="#42793c"/>
<rect x="143.91" y="345.81" width="7.04" height="8.29" fill="#531711"/>
<rect x="150.65" y="345.81" width="7.04" height="8.29" fill="#671813"/>
<rect x="157.39" y="345.81" width="7.04" height="8.29" fill="#80b43e"/>
<rect x="164.13" y="345.81" width="7.04" height="8.29" fill="#85b73d"/>
<rect x="170.86" y="345.81" width="7.04" height="8.29" fill="#85b73d"/>
<rect x="177.60" y="345.81" width="7.04" height="8.29" fill="#85b73d"/>
<rect x="184.34" y="345.81" width="7.04" height="8.29" fill="#85b73d"/>
<rect x="191.08" y="345.81" width="7.04" height="8.29" fill="#85b73d"/>
<rect x="197.82" y="345.81" width="7.04" height="8.29" fill="#85b73d"/>
<rect x="204.55" y="345.81" width="7.04" height="8.29" fill="#85b73d"/>
<rect x="211.29" y="345.81" width="7.04" height="8.29" fill="#85b73d"/>
<rect x="218.03" y="345.81" width="7.04" height="8.29" fill="#85b73d"/>
<rect x="224.77" y="345.81" width="7.04" height="8.29" fill="#85b73d"/>
<rect x="231.50" y="345.81" width="7.04" height="8.29" fill="#85b73d"/>
<rect x="238.24" y="345.81" width="7.04" height="8.29" fill="#85b73d"/>
<rect x="244.98" y="345.81" width="7.04" height="8.29" fill="#85b73d"/>
<rect x="251.72" y="345.81" width="7.04" height="8.29" fill="#85b73d"/>
<rect x="258.46" y="345.81" width="7.04" height="8.29" fill="#85b73d"/>
<rect x="265.19" y="345.81" width="7.04" height="8.29" fill="#80b43e"/>
<rect x="271.93" y="345.81" width="7.04" height="8.29" fill="#80b43e"/>
<rect x="278.67" y="345.81" width="7.04" height="8.29" fill="#80b43e"/>
<rect x="285.41" y="345.81" width="7.04" height="8.29" fill="#c4031a"/>
<rect x="292.14" y="345.81" width="7.04" height="8.29" fill="#c4031a"/>
<rect x="298.88" y="345.81" width="7.04" height="8.29" fill="#c4031a"/>
<rect x="305.62" y="345.81" width="7.04" height="8.29" fill="#601812"/>
<rect x="312.36" y="345.81" width="7.04" height="8.29" fill="#42793c"/>
<rect x="319.10" y="345.81" width="7.04" height="8.29" fill="#61a243"/>
<rect x="325.83" y="345.81" width="7.04" height="8.29" fill="#80b43e"/>
<rect x="332.57" y="345.81" width="7.04" height="8.29" fill="#531711"/>
<rect x="339.31" y="345.81" width="7.04" height="8.29" fill="#549541"/>
<rect x="346.05" y="345.81" width="7.04" height="8.29" fill="#601812"/>
<rect x="352.78" y="345.81" width="7.04" height="8.29" fill="#42793c"/>
<rect x="359.52" y="345.81" width="7.04" height="8.29" fill="#45823c"/>
<rect x="366.26" y="345.81" width="7.04" height="8.29" fill="#a7151d"/>
<rect x="373.00" y="345.81" width="7.04" height="8.29" fill="#a7151d"/>
<rect x="379.74" y="345.81" width="7.04" height="8.29" fill="#c4031a"/>
<rect x="386.47" y="345.81" width="7.04" height="8.29" fill="#531711"/>
<rect x="393.21" y="345.81" width="7.04" height="8.29" fill="#601812"/>
<rect x="399.95" y="345.81" width="7.04" height="8.29" fill="#c4031a"/>
<rect x="406.69" y="345.81" width="7.04" height="8.29" fill="#b60c1c"/>
<rect x="413.42" y="345.81" width="7.04" height="8.29" fill="#ac121c"/>
<rect x="420.16" y="345.81" width="7.04" height="8.29" fill="#b60c1c"/>
<rect x="123.70" y="353.80" width="7.04" height="8.29" fill="#74ad40"/>
<rect x="130.44" y="353.80" width="7.04" height="8.29" fill="#5c9f44"/>
<rect x="137.18" y="353.80" width="7.04" height="8.29" fill="#4d8c3f"/>
<rect x="143.91" y="353.80" width="7.04" height="8.29" fill="#4a883e"/>
<rect x="150.65" y="353.80" width="7.04" height="8.29" fill="#40733b"/>
<rect x="157.39" y="353.80" width="7.04" height="8.29" fill="#6faa41"/>
<rect x="164.13" y="353.80" width="7.04" height="8.29" fill="#80b43e"/>
<rect x="170.86" y="353.80" width="7.04" height="8.29" fill="#79b03f"/>
<rect x="177.60" y="353.80" width="7.04" height="8.29" fill="#79b03f"/>
<rect x="184.34" y="353.80" width="7.04" height="8.29" fill="#80b43e"/>
<rect x="191.08" y="353.80" width="7.04" height="8.29" fill="#80b43e"/>
<rect x="197.82" y="353.80" width="7.04" height="8.29" fill="#80b43e"/>
<rect x="204.55" y="353.80" width="7.04" height="8.29" fill="#80b43e"/>
<rect x="211.29" y="353.80" width="7.04" height="8.29" fill="#82b53e"/>
<rect x="218.03" y="353.80" width="7.04" height="8.29" fill="#82b53e"/>
<rect x="224.77" y="353.80" width="7.04" height="8.29" fill="#82b53e"/>
<rect x="231.50" y="353.80" width="7.04" height="8.29" fill="#82b53e"/>
<rect x="238.24" y="353.80" width="7.04" height="8.29" fill="#82b53e"/>
<rect x="244.98" y="353.80" width="7.04" height="8.29" fill="#79b03f"/>
<rect x="251.72" y="353.80" width="7.04" height="8.29" fill="#79b03f"/>
<rect x="258.46" y="353.80" width="7.04" height="8.29" fill="#82b53e"/>
<rect x="265.19" y="353.80" width="7.04" height="8.29" fill="#80b43e"/>
<rect x="271.93" y="353.80" width="7.04" height="8.29" fill="#80b43e"/>
<rect x="278.67" y="353.80" width="7.04" height="8.29" fill="#80b43e"/>
<rect x="285.41" y="353.80" width="7.04" height="8.29" fill="#c4031a"/>
<rect x="292.14" y="353.80" width="7.04" height="8.29" fill="#c4031a"/>
<rect x="298.88" y="353.80" width="7.04" height="8.29" fill="#c4031a"/>
<rect x="305.62" y="353.80" width="7.04" height="8.29" fill="#c4031a"/>
<rect x="312.36" y="353.80" width="7.04" height="8.29" fill="#c4031a"/>
<rect x="319.10" y="353.80" width="7.04" height="8.29" fill="#5c9f44"/>
<rect x="325.83" y="353.80" width="7.04" height="8.29" fill="#c4031a"/>
<rect x="332.57" y="353.80" width="7.04" height="8.29" fill="#a7151d"/>
<rect x="339.31" y="353.80" width="7.04" height="8.29" fill="#601812"/>
<rect x="346.05" y="353.80" width="7.04" height="8.29" fill="#881719"/>
<rect x="352.78" y="353.80" width="7.04" height="8.29" fill="#531711"/>
<rect x="359.52" y="353.80" width="7.04" height="8.29" fill="#40733b"/>
<rect x="366.26" y="353.80" width="7.04" height="8.29" fill="#45823c"/>
<rect x="373.00" y="353.80" width="7.04" height="8.29" fill="#549541"/>
<rect x="379.74" y="353.80" width="7.04" height="8.29" fill="#c4031a"/>
<rect x="386.47" y="353.80" width="7.04" height="8.29" fill="#671813"/>
<rect x="393.21" y="353.80" width="7.04" height="8.29" fill="#7b1816"/>
<rect x="399.95" y="353.80" width="7.04" height="8.29" fill="#549541"/>
<rect x="406.69" y="353.80" width="7.04" height="8.29" fill="#601812"/>
<rect x="413.42" y="353.80" width="7.04" height="8.29" fill="#ac121c"/>
<rect x="420.16" y="353.80" width="7.04" height="8.29" fill="#ac121c"/>
<rect x="123.70" y="361.78" width="7.04" height="8.29" fill="#79b03f"/>
<rect x="130.44" y="361.78" width="7.04" height="8.29" fill="#79b03f"/>
<rect x="137.18" y="361.78" width="7.04" height="8.29" fill="#42793c"/>
<rect x="143.91" y="361.78" width="7.04" height="8.29" fill="#61a243"/>
<rect x="150.65" y="361.78" width="7.04" height="8.29" fill="#3b653b"/>
<rect x="157.39" y="361.78" width="7.04" height="8.29" fill="#80b43e"/>
<rect x="164.13" y="361.78" width="7.04" height="8.29" fill="#85b73d"/>
<rect x="170.86" y="361.78" width="7.04" height="8.29" fill="#85b73d"/>
<rect x="177.60" y="361.78" width="7.04" height="8.29" fill="#85b73d"/>
<rect x="184.34" y="361.78" width="7.04" height="8.29" fill="#85b73d"/>
<rect x="191.08" y="361.78" width="7.04" height="8.29" fill="#85b73d"/>
<rect x="197.82" y="361.78" width="7.04" height="8.29" fill="#85b73d"/>
<rect x="204.55" y="361.78" width="7.04" height="8.29" fill="#85b73d"/>
<rect x="211.29" y="361.78" width="7.04" height="8.29" fill="#85b73d"/>
<rect x="218.03" y="361.78" width="7.04" height="8.29" fill="#85b73d"/>
<rect x="224.77" y="361.78" width="7.04" height="8.29" fill="#85b73d"/>
<rect x="231.50" y="361.78" width="7.04" height="8.29" fill="#85b73d"/>
<rect x="238.24" y="361.78" width="7.04" height="8.29" fill="#85b73d"/>
<rect x="244.98" y="361.78" width="7.04" height="8.29" fill="#85b73d"/>
<rect x="251.72" y="361.78" width="7.04" height="8.29" fill="#85b73d"/>
<rect x="258.46" y="361.78" width="7.04" height="8.29" fill="#85b73d"/>
<rect x="265.19" y="361.78" width="7.04" height="8.29" fill="#80b43e"/>
<rect x="271.93" y="361.78" width="7.04" height="8.29" fill="#80b43e"/>
<rect x="278.67" y="361.78" width="7.04" height="8.29" fill="#80b43e"/>
<rect x="285.41" y="361.78" width="7.04" height="8.29" fill="#671813"/>
<rect x="292.14" y="361.78" width="7.04" height="8.29" fill="#c4031a"/>
<rect x="298.88" y="361.78" width="7.04" height="8.29" fill="#c4031a"/>
<rect x="305.62" y="361.78" width="7.04" height="8.29" fill="#9c171c"/>
<rect x="312.36" y="361.78" width="7.04" height="8.29" fill="#9c171c"/>
<rect x="319.10" y="361.78" width="7.04" height="8.29" fill="#68a642"/>
<rect x="325.83" y="361.78" width="7.04" height="8.29" fill="#c4031a"/>
<rect x="332.57" y="361.78" width="7.04" height="8.29" fill="#a7151d"/>
<rect x="339.31" y="361.78" width="7.04" height="8.29" fill="#42793c"/>
<rect x="346.05" y="361.78" width="7.04" height="8.29" fill="#671813"/>
<rect x="352.78" y="361.78" width="7.04" height="8.29" fill="#531711"/>
<rect x="359.52" y="361.78" width="7.04" height="8.29" fill="#45823c"/>
<rect x="366.26" y="361.78" width="7.04" height="8.29" fill="#881719"/>
<rect x="373.00" y="361.78" width="7.04" height="8.29" fill="#531711"/>
<rect x="379.74" y="361.78" width="7.04" height="8.29" fill="#b20e1c"/>
<rect x="386.47" y="361.78" width="7.04" height="8.29" fill="#92171a"/>
<rect x="393.21" y="361.78" width="7.04" height="8.29" fill="#92171a"/>
<rect x="399.95" y="361.78" width="7.04" height="8.29" fill="#5b1812"/>
<rect x="406.69" y="361.78" width="7.04" height="8.29" fill="#c4031a"/>
<rect x="413.42" y="361.78" width="7.04" height="8.29" fill="#92171a"/>
<rect x="420.16" y="361.78" width="7.04" height="8.29" fill="#671813"/>
<rect x="123.70" y="369.77" width="7.04" height="8.29" fill="#68a642"/>
<rect x="130.44" y="369.77" width="7.04" height="8.29" fill="#68a642"/>
<rect x="137.18" y="369.77" width="7.04" height="8.29" fill="#531711"/>
<rect x="143.91" y="369.77" width="7.04" height="8.29" fill="#45823c"/>
<rect x="150.65" y="369.77" width="7.04" height="8.29" fill="#4a883e"/>
<rect x="157.39" y="369.77" width="7.04" height="8.29" fill="#80b43e"/>
<rect x="164.13" y="369.77" width="7.04" height="8.29" fill="#7eb33e"/>
<rect x="170.86" y="369.77" width="7.04" height="8.29" fill="#7eb33e"/>
<rect x="177.60" y="369.77" width="7.04" height="8.29" fill="#79b03f"/>
<rect x="184.34" y="369.77" width="7.04" height="8.29" fill="#68a642"/>
<rect x="191.08" y="369.77" width="7.04" height="8.29" fill="#7eb33e"/>
<rect x="197.82" y="369.77" width="7.04" height="8.29" fill="#74ad40"/>
<rect x="204.55" y="369.77" width="7.04" height="8.29" fill="#80b43e"/>
<rect x="211.29" y="369.77" width="7.04" height="8.29" fill="#80b43e"/>
<rect x="218.03" y="369.77" width="7.04" height="8.29" fill="#80b43e"/>
<rect x="224.77" y="369.77" width="7.04" height="8.29" fill="#80b43e"/>
<rect x="231.50" y="369.77" width="7.04" height="8.29" fill="#79b03f"/>
<rect x="238.24" y="369.77" width="7.04" height="8.29" fill="#79b03f"/>
<rect x="244.98" y="369.77" width="7.04" height="8.29" fill="#79b03f"/>
<rect x="251.72" y="369.77" width="7.04" height="8.29" fill="#74ad40"/>
<rect x="258.46" y="369.77" width="7.04" height="8.29" fill="#79b03f"/>
<rect x="265.19" y="369.77" width="7.04" height="8.29" fill="#79b03f"/>
<rect x="271.93" y="369.77" width="7.04" height="8.29" fill="#79b03f"/>
<rect x="278.67" y="369.77" width="7.04" height="8.29" fill="#79b03f"/>
<rect x="285.41" y="369.77" width="7.04" height="8.29" fill="#671813"/>
<rect x="292.14" y="369.77" width="7.04" height="8.29" fill="#9c171c"/>
<rect x="298.88" y="369.77" width="7.04" height="8.29" fill="#a7151d"/>
<rect x="305.62" y="369.77" width="7.04" height="8.29" fill="#a7151d"/>
<rect x="312.36" y="369.77" width="7.04" height="8.29" fill="#68a642"/>
<rect x="319.10" y="369.77" width="7.04" height="8.29" fill="#68a642"/>
<rect x="325.83" y="369.77" width="7.04" height="8.29" fill="#601812"/>
<rect x="332.57" y="369.77" width="7.04" height="8.29" fill="#a7151d"/>
<rect x="339.31" y="369.77" width="7.04" height="8.29" fill="#599b43"/>
<rect x="346.05" y="369.77" width="7.04" height="8.29" fill="#599b43"/>
<rect x="352.78" y="369.77" width="7.04" height="8.29" fill="#601812"/>
<rect x="359.52" y="369.77" width="7.04" height="8.29" fill="#711815"/>
<rect x="366.26" y="369.77" width="7.04" height="8.29" fill="#4a883e"/>
<rect x="373.00" y="369.77" width="7.04" height="8.29" fill="#40733b"/>
<rect x="379.74" y="369.77" width="7.04" height="8.29" fill="#a7151d"/>
<rect x="386.47" y="369.77" width="7.04" height="8.29" fill="#a7151d"/>
<rect x="393.21" y="369.77" width="7.04" height="8.29" fill="#a7151d"/>
<rect x="399.95" y="369.77" width="7.04" height="8.29" fill="#531711"/>
<rect x="406.69" y="369.77" width="7.04" height="8.29" fill="#92171a"/>
<rect x="413.42" y="369.77" width="7.04" height="8.29" fill="#3e6d3b"/>
<rect x="420.16" y="369.77" width="7.04" height="8.29" fill="#531711"/>
<rect x="123.70" y="377.75" width="7.04" height="8.29" fill="#68a642"/>
<rect x="130.44" y="377.75" width="7.04" height="8.29" fill="#4d8c3f"/>
<rect x="137.18" y="377.75" width="7.04" height="8.29" fill="#45823c"/>
<rect x="143.91" y="377.75" width="7.04" height="8.29" fill="#4d8c3f"/>
<rect x="150.65" y="377.75" width="7.04" height="8.29" fill="#4d8c3f"/>
<rect x="157.39" y="377.75" width="7.04" height="8.29" fill="#80b43e"/>
<rect x="164.13" y="377.75" width="7.04" height="8.29" fill="#85b73d"/>
<rect x="170.86" y="377.75" width="7.04" height="8.29" fill="#85b73d"/>
<rect x="177.60" y="377.75" width="7.04" height="8.29" fill="#85b73d"/>
<rect x="184.34" y="377.75" width="7.04" height="8.29" fill="#85b73d"/>
<rect x="191.08" y="377.75" width="7.04" height="8.29" fill="#85b73d"/>
<rect x="197.82" y="377.75" width="7.04" height="8.29" fill="#85b73d"/>
<rect x="204.55" y="377.75" width="7.04" height="8.29" fill="#85b73d"/>
<rect x="211.29" y="377.75" width="7.04" height="8.29" fill="#85b73d"/>
<rect x="218.03" y="377.75" width="7.04" height="8.29" fill="#85b73d"/>
<rect x="224.77" y="377.75" width="7.04" height="8.29" fill="#85b73d"/>
<rect x="231.50" y="377.75" width="7.04" height="8.29" fill="#85b73d"/>
<rect x="238.24" y="377.75" width="7.04" height="8.29" fill="#85b73d"/>
<rect x="244.98" y="377.75" width="7.04" height="8.29" fill="#85b73d"/>
<rect x="251.72" y="377.75" width="7.04" height="8.29" fill="#85b73d"/>
<rect x="258.46" y="377.75" width="7.04" height="8.29" fill="#85b73d"/>
<rect x="265.19" y="377.75" width="7.04" height="8.29" fill="#80b43e"/>
<rect x="271.93" y="377.75" width="7.04" height="8.29" fill="#80b43e"/>
<rect x="278.67" y="377.75" width="7.04" height="8.29" fill="#80b43e"/>
<rect x="285.41" y="377.75" width="7.04" height="8.29" fill="#671813"/>
<rect x="292.14" y="377.75" width="7.04" height="8.29" fill="#9c171c"/>
<rect x="298.88" y="377.75" width="7.04" height="8.29" fill="#5b1812"/>
<rect x="305.62" y="377.75" width="7.04" height="8.29" fill="#7b1816"/>
<rect x="312.36" y="377.75" width="7.04" height="8.29" fill="#74ad40"/>
<rect x="319.10" y="377.75" width="7.04" height="8.29" fill="#80b43e"/>
<rect x="325.83" y="377.75" width="7.04" height="8.29" fill="#42793c"/>
<rect x="332.57" y="377.75" width="7.04" height="8.29" fill="#9c171c"/>
<rect x="339.31" y="377.75" width="7.04" height="8.29" fill="#601812"/>
<rect x="346.05" y="377.75" width="7.04" height="8.29" fill="#671813"/>
<rect x="352.78" y="377.75" width="7.04" height="8.29" fill="#601812"/>
<rect x="359.52" y="377.75" width="7.04" height="8.29" fill="#42793c"/>
<rect x="366.26" y="377.75" width="7.04" height="8.29" fill="#5b1812"/>
<rect x="373.00" y="377.75" width="7.04" height="8.29" fill="#40733b"/>
<rect x="379.74" y="377.75" width="7.04" height="8.29" fill="#881719"/>
<rect x="386.47" y="377.75" width="7.04" height="8.29" fill="#45823c"/>
<rect x="393.21" y="377.75" width="7.04" height="8.29" fill="#531711"/>
<rect x="399.95" y="377.75" width="7.04" height="8.29" fill="#531711"/>
<rect x="406.69" y="377.75" width="7.04" height="8.29" fill="#9c171c"/>
<rect x="413.42" y="377.75" width="7.04" height="8.29" fill="#671813"/>
<rect x="420.16" y="377.75" width="7.04" height="8.29" fill="#671813"/>
<rect x="123.70" y="385.74" width="7.04" height="8.29" fill="#68a642"/>
<rect x="130.44" y="385.74" width="7.04" height="8.29" fill="#79b03f"/>
<rect x="137.18" y="385.74" width="7.04" height="8.29" fill="#6faa41"/>
<rect x="143.91" y="385.74" width="7.04" height="8.29" fill="#4d8c3f"/>
<rect x="150.65" y="385.74" width="7.04" height="8.29" fill="#5c9f44"/>
<rect x="157.39" y="385.74" width="7.04" height="8.29" fill="#80b43e"/>
<rect x="164.13" y="385.74" width="7.04" height="8.29" fill="#80b43e"/>
<rect x="170.86" y="385.74" width="7.04" height="8.29" fill="#7eb33e"/>
<rect x="177.60" y="385.74" width="7.04" height="8.29" fill="#79b03f"/>
<rect x="184.34" y="385.74" width="7.04" height="8.29" fill="#79b03f"/>
<rect x="191.08" y="385.74" width="7.04" height="8.29" fill="#85b73d"/>
<rect x="197.82" y="385.74" width="7.04" height="8.29" fill="#85b73d"/>
<rect x="204.55" y="385.74" width="7.04" height="8.29" fill="#85b73d"/>
<rect x="211.29" y="385.74" width="7.04" height="8.29" fill="#82b53e"/>
<rect x="218.03" y="385.74" width="7.04" height="8.29" fill="#82b53e"/>
<rect x="224.77" y="385.74" width="7.04" height="8.29" fill="#82b53e"/>
<rect x="231.50" y="385.74" width="7.04" height="8.29" fill="#7eb33e"/>
<rect x="238.24" y="385.74" width="7.04" height="8.29" fill="#7eb33e"/>
<rect x="244.98" y="385.74" width="7.04" height="8.29" fill="#82b53e"/>
<rect x="251.72" y="385.74" width="7.04" height="8.29" fill="#7eb33e"/>
<rect x="258.46" y="385.74" width="7.04" height="8.29" fill="#82b53e"/>
<rect x="265.19" y="385.74" width="7.04" height="8.29" fill="#7eb33e"/>
<rect x="271.93" y="385.74" width="7.04" height="8.29" fill="#7eb33e"/>
<rect x="278.67" y="385.74" width="7.04" height="8.29" fill="#7eb33e"/>
<rect x="285.41" y="385.74" width="7.04" height="8.29" fill="#a7151d"/>
<rect x="292.14" y="385.74" width="7.04" height="8.29" fill="#b20e1c"/>
<rect x="298.88" y="385.74" width="7.04" height="8.29" fill="#4a883e"/>
<rect x="305.62" y="385.74" width="7.04" height="8.29" fill="#4a883e"/>
<rect x="312.36" y="385.74" width="7.04" height="8.29" fill="#5c9f44"/>
<rect x="319.10" y="385.74" width="7.04" height="8.29" fill="#4b1610"/>
<rect x="325.83" y="385.74" width="7.04" height="8.29" fill="#a3171d"/>
<rect x="332.57" y="385.74" width="7.04" height="8.29" fill="#74ad40"/>
<rect x="339.31" y="385.74" width="7.04" height="8.29" fill="#549541"/>
<rect x="346.05" y="385.74" width="7.04" height="8.29" fill="#42793c"/>
<rect x="352.78" y="385.74" width="7.04" height="8.29" fill="#601812"/>
<rect x="359.52" y="385.74" width="7.04" height="8.29" fill="#4a883e"/>
<rect x="366.26" y="385.74" width="7.04" height="8.29" fill="#5b1812"/>
<rect x="373.00" y="385.74" width="7.04" height="8.29" fill="#881719"/>
<rect x="379.74" y="385.74" width="7.04" height="8.29" fill="#4d8c3f"/>
<rect x="386.47" y="385.74" width="7.04" height="8.29" fill="#45823c"/>
<rect x="393.21" y="385.74" width="7.04" height="8.29" fill="#531711"/>
<rect x="399.95" y="385.74" width="7.04" height="8.29" fill="#601812"/>
<rect x="406.69" y="385.74" width="7.04" height="8.29" fill="#711815"/>
<rect x="413.42" y="385.74" width="7.04" height="8.29" fill="#711815"/>
<rect x="420.16" y="385.74" width="7.04" height="8.29" fill="#711815"/>
<rect x="123.70" y="393.73" width="7.04" height="8.29" fill="#6faa41"/>
<rect x="130.44" y="393.73" width="7.04" height="8.29" fill="#74ad40"/>
<rect x="137.18" y="393.73" width="7.04" height="8.29" fill="#80b43e"/>
<rect x="143.91" y="393.73" width="7.04" height="8.29" fill="#61a243"/>
<rect x="150.65" y="393.73" width="7.04" height="8.29" fill="#68a642"/>
<rect x="157.39" y="393.73" width="7.04" height="8.29" fill="#85b73d"/>
<rect x="164.13" y="393.73" width="7.04" height="8.29" fill="#85b73d"/>
<rect x="170.86" y="393.73" width="7.04" height="8.29" fill="#85b73d"/>
<rect x="177.60" y="393.73" width="7.04" height="8.29" fill="#80b43e"/>
<rect x="184.34" y="393.73" width="7.04" height="8.29" fill="#80b43e"/>
<rect x="191.08" y="393.73" width="7.04" height="8.29" fill="#85b73d"/>
<rect x="197.82" y="393.73" width="7.04" height="8.29" fill="#85b73d"/>
<rect x="204.55" y="393.73" width="7.04" height="8.29" fill="#85b73d"/>
<rect x="211.29" y="393.73" width="7.04" height="8.29" fill="#85b73d"/>
<rect x="218.03" y="393.73" width="7.04" height="8.29" fill="#85b73d"/>
<rect x="224.77" y="393.73" width="7.04" height="8.29" fill="#85b73d"/>
<rect x="231.50" y="393.73" width="7.04" height="8.29" fill="#85b73d"/>
<rect x="238.24" y="393.73" width="7.04" height="8.29" fill="#85b73d"/>
<rect x="244.98" y="393.73" width="7.04" height="8.29" fill="#85b73d"/>
<rect x="251.72" y="393.73" width="7.04" height="8.29" fill="#85b73d"/>
<rect x="258.46" y="393.73" width="7.04" height="8.29" fill="#85b73d"/>
<rect x="265.19" y="393.73" width="7.04" height="8.29" fill="#80b43e"/>
<rect x="271.93" y="393.73" width="7.04" height="8.29" fill="#80b43e"/>
<rect x="278.67" y="393.73" width="7.04" height="8.29" fill="#80b43e"/>
<rect x="285.41" y="393.73" width="7.04" height="8.29" fill="#92171a"/>
<rect x="292.14" y="393.73" width="7.04" height="8.29" fill="#6faa41"/>
<rect x="298.88" y="393.73" width="7.04" height="8.29" fill="#c4031a"/>
<rect x="305.62" y="393.73" width="7.04" height="8.29" fill="#c4031a"/>
<rect x="312.36" y="393.73" width="7.04" height="8.29" fill="#61a243"/>
<rect x="319.10" y="393.73" width="7.04" height="8.29" fill="#92171a"/>
<rect x="325.83" y="393.73" width="7.04" height="8.29" fill="#80b43e"/>
<rect x="332.57" y="393.73" width="7.04" height="8.29" fill="#549541"/>
<rect x="339.31" y="393.73" width="7.04" height="8.29" fill="#549541"/>
<rect x="346.05" y="393.73" width="7.04" height="8.29" fill="#42793c"/>
<rect x="352.78" y="393.73" width="7.04" height="8.29" fill="#61a243"/>
<rect x="359.52" y="393.73" width="7.04" height="8.29" fill="#42793c"/>
<rect x="366.26" y="393.73" width="7.04" height="8.29" fill="#549541"/>
<rect x="373.00" y="393.73" width="7.04" height="8.29" fill="#42793c"/>
<rect x="379.74" y="393.73" width="7.04" height="8.29" fill="#c4031a"/>
<rect x="386.47" y="393.73" width="7.04" height="8.29" fill="#c4031a"/>
<rect x="393.21" y="393.73" width="7.04" height="8.29" fill="#c4031a"/>
<rect x="399.95" y="393.73" width="7.04" height="8.29" fill="#881719"/>
<rect x="406.69" y="393.73" width="7.04" height="8.29" fill="#5c9f44"/>
<rect x="413.42" y="393.73" width="7.04" height="8.29" fill="#45823c"/>
<rect x="420.16" y="393.73" width="7.04" height="8.29" fill="#549541"/>
<rect x="123.70" y="401.71" width="7.04" height="8.29" fill="#811817"/>
<rect x="130.44" y="401.71" width="7.04" height="8.29" fill="#ac121c"/>
<rect x="137.18" y="401.71" width="7.04" height="8.29" fill="#b20e1c"/>
<rect x="143.91" y="401.71" width="7.04" height="8.29" fill="#ac121c"/>
<rect x="150.65" y="401.71" width="7.04" height="8.29" fill="#c4031a"/>
<rect x="157.39" y="401.71" width="7.04" height="8.29" fill="#881719"/>
<rect x="164.13" y="401.71" width="7.04" height="8.29" fill="#9c171c"/>
<rect x="170.86" y="401.71" width="7.04" height="8.29" fill="#a3171d"/>
<rect x="177.60" y="401.71" width="7.04" height="8.29" fill="#881719"/>
<rect x="184.34" y="401.71" width="7.04" height="8.29" fill="#671813"/>
<rect x="191.08" y="401.71" width="7.04" height="8.29" fill="#711815"/>
<rect x="197.82" y="401.71" width="7.04" height="8.29" fill="#601812"/>
<rect x="204.55" y="401.71" width="7.04" height="8.29" fill="#531711"/>
<rect x="211.29" y="401.71" width="7.04" height="8.29" fill="#531711"/>
<rect x="218.03" y="401.71" width="7.04" height="8.29" fill="#881719"/>
<rect x="224.77" y="401.71" width="7.04" height="8.29" fill="#92171a"/>
<rect x="231.50" y="401.71" width="7.04" height="8.29" fill="#881719"/>
<rect x="238.24" y="401.71" width="7.04" height="8.29" fill="#601812"/>
<rect x="244.98" y="401.71" width="7.04" height="8.29" fill="#92171a"/>
<rect x="251.72" y="401.71" width="7.04" height="8.29" fill="#92171a"/>
<rect x="258.46" y="401.71" width="7.04" height="8.29" fill="#7b1816"/>
<rect x="265.19" y="401.71" width="7.04" height="8.29" fill="#881719"/>
<rect x="271.93" y="401.71" width="7.04" height="8.29" fill="#881719"/>
<rect x="278.67" y="401.71" width="7.04" height="8.29" fill="#92171a"/>
<rect x="285.41" y="401.71" width="7.04" height="8.29" fill="#c4031a"/>
<rect x="292.14" y="401.71" width="7.04" height="8.29" fill="#c4031a"/>
<rect x="298.88" y="401.71" width="7.04" height="8.29" fill="#c4031a"/>
<rect x="305.62" y="401.71" width="7.04" height="8.29" fill="#c4031a"/>
<rect x="312.36" y="401.71" width="7.04" height="8.29" fill="#c4031a"/>
<rect x="319.10" y="401.71" width="7.04" height="8.29" fill="#c4031a"/>
<rect x="325.83" y="401.71" width="7.04" height="8.29" fill="#601812"/>
<rect x="332.57" y="401.71" width="7.04" height="8.29" fill="#c4031a"/>
<rect x="339.31" y="401.71" width="7.04" height="8.29" fill="#c4031a"/>
<rect x="346.05" y="401.71" width="7.04" height="8.29" fill="#c4031a"/>
<rect x="352.78" y="401.71" width="7.04" height="8.29" fill="#b90a1b"/>
<rect x="359.52" y="401.71" width="7.04" height="8.29" fill="#c4031a"/>
<rect x="366.26" y="401.71" width="7.04" height="8.29" fill="#c4031a"/>
<rect x="373.00" y="401.71" width="7.04" height="8.29" fill="#c4031a"/>
<rect x="379.74" y="401.71" width="7.04" height="8.29" fill="#b20e1c"/>
<rect x="386.47" y="401.71" width="7.04" height="8.29" fill="#c4031a"/>
<rect x="393.21" y="401.71" width="7.04" height="8.29" fill="#c4031a"/>
<rect x="399.95" y="401.71" width="7.04" height="8.29" fill="#c4031a"/>
<rect x="406.69" y="401.71" width="7.04" height="8.29" fill="#c4031a"/>
<rect x="413.42" y="401.71" width="7.04" height="8.29" fill="#c4031a"/>
<rect x="420.16" y="401.71" width="7.04" height="8.29" fill="#c4031a"/>
</g>
<defs><linearGradient id="cb" x1="0" y1="1" x2="0" y2="0">
<stop offset="0.0" stop-color="#8cbb3c"/>
<stop offset="0.2" stop-color="#5c9f44"/>
<stop offset="0.35" stop-color="#45823c"/>
<stop offset="0.5" stop-color="#36563a"/>
<stop offset="0.5001" stop-color="#461610"/>
<stop offset="0.6" stop-color="#601812"/>
<stop offset="0.8" stop-color="#a3171d"/>
<stop offset="1.0" stop-color="#c8011a"/>
</linearGradient></defs>
<rect x="57.4" y="241" width="7.6" height="163.5" fill="url(#cb)"/>
<line x1="53.0" y1="404.2" x2="57.4" y2="404.2" stroke="#222" stroke-width="0.9" />
<text x="49.9" y="407.5" font-size="9.2" fill="#111" text-anchor="end" font-weight="normal" font-style="normal" stroke="#111" stroke-width="0.184" >0</text>
<line x1="53.0" y1="371.5" x2="57.4" y2="371.5" stroke="#222" stroke-width="0.9" />
<text x="49.9" y="374.8" font-size="9.2" fill="#111" text-anchor="end" font-weight="normal" font-style="normal" stroke="#111" stroke-width="0.184" >0.2</text>
<line x1="53.0" y1="338.79999999999995" x2="57.4" y2="338.79999999999995" stroke="#222" stroke-width="0.9" />
<text x="49.9" y="342.09999999999997" font-size="9.2" fill="#111" text-anchor="end" font-weight="normal" font-style="normal" stroke="#111" stroke-width="0.184" >0.4</text>
<line x1="53.0" y1="306.09999999999997" x2="57.4" y2="306.09999999999997" stroke="#222" stroke-width="0.9" />
<text x="49.9" y="309.4" font-size="9.2" fill="#111" text-anchor="end" font-weight="normal" font-style="normal" stroke="#111" stroke-width="0.184" >0.6</text>
<line x1="53.0" y1="273.4" x2="57.4" y2="273.4" stroke="#222" stroke-width="0.9" />
<text x="49.9" y="276.7" font-size="9.2" fill="#111" text-anchor="end" font-weight="normal" font-style="normal" stroke="#111" stroke-width="0.184" >0.8</text>
<text transform="translate(29.2,327.4) rotate(-90)" font-size="9" fill="#111" stroke="#111" stroke-width="0.15" text-anchor="middle" textLength="103" lengthAdjust="spacingAndGlyphs">CpG methylation (&#946;-value)</text>
<g transform="translate(429.6,0) scale(0.92,1)">
<text x="0" y="239.90" font-size="5.4" fill="#2a2a2a" text-anchor="start" font-weight="normal" font-style="italic" stroke="#2a2a2a" stroke-width="0.04" >ZSCAN18</text>
<text x="0" y="247.89" font-size="5.4" fill="#2a2a2a" text-anchor="start" font-weight="normal" font-style="italic" stroke="#2a2a2a" stroke-width="0.04" >C2orf40</text>
<text x="0" y="255.87" font-size="5.4" fill="#2a2a2a" text-anchor="start" font-weight="normal" font-style="italic" stroke="#2a2a2a" stroke-width="0.04" >TMEM45B</text>
<text x="0" y="263.86" font-size="5.4" fill="#2a2a2a" text-anchor="start" font-weight="normal" font-style="italic" stroke="#2a2a2a" stroke-width="0.04" >POMC</text>
<text x="0" y="271.85" font-size="5.4" fill="#2a2a2a" text-anchor="start" font-weight="normal" font-style="italic" stroke="#2a2a2a" stroke-width="0.04" >KLHL34</text>
<text x="0" y="279.83" font-size="5.4" fill="#2a2a2a" text-anchor="start" font-weight="normal" font-style="italic" stroke="#2a2a2a" stroke-width="0.04" >LAIR1</text>
<text x="0" y="287.82" font-size="5.4" fill="#2a2a2a" text-anchor="start" font-weight="normal" font-style="italic" stroke="#2a2a2a" stroke-width="0.04" >ZNF662</text>
<text x="0" y="295.80" font-size="5.4" fill="#2a2a2a" text-anchor="start" font-weight="normal" font-style="italic" stroke="#2a2a2a" stroke-width="0.04" >THEMIS</text>
<text x="0" y="303.79" font-size="5.4" fill="#2a2a2a" text-anchor="start" font-weight="normal" font-style="italic" stroke="#2a2a2a" stroke-width="0.04" >MDS2</text>
<text x="0" y="311.78" font-size="5.4" fill="#2a2a2a" text-anchor="start" font-weight="normal" font-style="italic" stroke="#2a2a2a" stroke-width="0.04" >ZNF717</text>
<text x="0" y="319.76" font-size="5.4" fill="#2a2a2a" text-anchor="start" font-weight="normal" font-style="italic" stroke="#2a2a2a" stroke-width="0.04" >SORCS3</text>
<text x="0" y="327.75" font-size="5.4" fill="#2a2a2a" text-anchor="start" font-weight="normal" font-style="italic" stroke="#2a2a2a" stroke-width="0.04" >ZIK1</text>
<text x="0" y="335.74" font-size="5.4" fill="#2a2a2a" text-anchor="start" font-weight="normal" font-style="italic" stroke="#2a2a2a" stroke-width="0.04" >HOOK1</text>
<text x="0" y="343.72" font-size="5.4" fill="#2a2a2a" text-anchor="start" font-weight="normal" font-style="italic" stroke="#2a2a2a" stroke-width="0.04" >LZTFL1</text>
<text x="0" y="351.71" font-size="5.4" fill="#2a2a2a" text-anchor="start" font-weight="normal" font-style="italic" stroke="#2a2a2a" stroke-width="0.04" >FHIT</text>
<text x="0" y="359.70" font-size="5.4" fill="#2a2a2a" text-anchor="start" font-weight="normal" font-style="italic" stroke="#2a2a2a" stroke-width="0.04" >SPG20</text>
<text x="0" y="367.68" font-size="5.4" fill="#2a2a2a" text-anchor="start" font-weight="normal" font-style="italic" stroke="#2a2a2a" stroke-width="0.04" >RNF130</text>
<text x="0" y="375.67" font-size="5.4" fill="#2a2a2a" text-anchor="start" font-weight="normal" font-style="italic" stroke="#2a2a2a" stroke-width="0.04" >SERPINB6</text>
<text x="0" y="383.65" font-size="5.4" fill="#2a2a2a" text-anchor="start" font-weight="normal" font-style="italic" stroke="#2a2a2a" stroke-width="0.04" >BCL9</text>
<text x="0" y="391.64" font-size="5.4" fill="#2a2a2a" text-anchor="start" font-weight="normal" font-style="italic" stroke="#2a2a2a" stroke-width="0.04" >CD7</text>
<text x="0" y="399.63" font-size="5.4" fill="#2a2a2a" text-anchor="start" font-weight="normal" font-style="italic" stroke="#2a2a2a" stroke-width="0.04" >NELL2</text>
<text x="0" y="407.61" font-size="5.4" fill="#2a2a2a" text-anchor="start" font-weight="normal" font-style="italic" stroke="#2a2a2a" stroke-width="0.04" >LYPD3</text>
</g>
<path d="M125.77 209.80V204.20H132.51V209.80" stroke="#7c7c7c" fill="none" stroke-width="0.85" />
<path d="M145.98 209.80V204.50H152.72V209.80" stroke="#7c7c7c" fill="none" stroke-width="0.85" />
<path d="M139.24 209.80V203.50H149.35V204.50" stroke="#7c7c7c" fill="none" stroke-width="0.85" />
<path d="M129.14 204.20V195.30H144.30V203.50" stroke="#7c7c7c" fill="none" stroke-width="0.85" />
<path d="M166.20 209.80V206.50H172.93V209.80" stroke="#7c7c7c" fill="none" stroke-width="0.85" />
<path d="M179.67 209.80V207.00H186.41V209.80" stroke="#7c7c7c" fill="none" stroke-width="0.85" />
<path d="M183.04 207.00V205.80H193.15V209.80" stroke="#7c7c7c" fill="none" stroke-width="0.85" />
<path d="M169.56 206.50V205.00H188.09V205.80" stroke="#7c7c7c" fill="none" stroke-width="0.85" />
<path d="M159.46 209.80V204.50H178.83V205.00" stroke="#7c7c7c" fill="none" stroke-width="0.85" />
<path d="M199.88 209.80V207.00H206.62V209.80" stroke="#7c7c7c" fill="none" stroke-width="0.85" />
<path d="M213.36 209.80V207.20H220.10V209.80" stroke="#7c7c7c" fill="none" stroke-width="0.85" />
<path d="M203.25 207.00V205.80H216.73V207.20" stroke="#7c7c7c" fill="none" stroke-width="0.85" />
<path d="M233.57 209.80V207.50H240.31V209.80" stroke="#7c7c7c" fill="none" stroke-width="0.85" />
<path d="M226.84 209.80V206.50H236.94V207.50" stroke="#7c7c7c" fill="none" stroke-width="0.85" />
<path d="M209.99 205.80V205.20H231.89V206.50" stroke="#7c7c7c" fill="none" stroke-width="0.85" />
<path d="M247.05 209.80V207.30H253.79V209.80" stroke="#7c7c7c" fill="none" stroke-width="0.85" />
<path d="M260.52 209.80V207.60H267.26V209.80" stroke="#7c7c7c" fill="none" stroke-width="0.85" />
<path d="M274.00 209.80V207.80H280.74V209.80" stroke="#7c7c7c" fill="none" stroke-width="0.85" />
<path d="M263.89 207.60V206.30H277.37V207.80" stroke="#7c7c7c" fill="none" stroke-width="0.85" />
<path d="M250.42 207.30V205.60H270.63V206.30" stroke="#7c7c7c" fill="none" stroke-width="0.85" />
<path d="M220.94 205.20V203.50H260.52V205.60" stroke="#7c7c7c" fill="none" stroke-width="0.85" />
<path d="M169.14 204.50V201.50H240.73V203.50" stroke="#7c7c7c" fill="none" stroke-width="0.85" />
<path d="M136.72 195.30V183.50H204.94V201.50" stroke="#7c7c7c" fill="none" stroke-width="0.85" />
<path d="M300.95 209.80V200.60H307.69V209.80" stroke="#7c7c7c" fill="none" stroke-width="0.85" />
<path d="M294.21 209.80V193.80H304.32V200.60" stroke="#7c7c7c" fill="none" stroke-width="0.85" />
<path d="M287.48 209.80V191.80H299.27V193.80" stroke="#7c7c7c" fill="none" stroke-width="0.85" />
<path d="M314.43 209.80V185.80H321.16V209.80" stroke="#7c7c7c" fill="none" stroke-width="0.85" />
<path d="M341.38 209.80V202.10H348.12V209.80" stroke="#7c7c7c" fill="none" stroke-width="0.85" />
<path d="M354.85 209.80V202.50H361.59V209.80" stroke="#7c7c7c" fill="none" stroke-width="0.85" />
<path d="M368.33 209.80V202.50H375.07V209.80" stroke="#7c7c7c" fill="none" stroke-width="0.85" />
<path d="M358.22 202.50V199.50H371.70V202.50" stroke="#7c7c7c" fill="none" stroke-width="0.85" />
<path d="M344.75 202.10V198.00H364.96V199.50" stroke="#7c7c7c" fill="none" stroke-width="0.85" />
<path d="M334.64 209.80V196.20H354.85V198.00" stroke="#7c7c7c" fill="none" stroke-width="0.85" />
<path d="M388.54 209.80V207.50H395.28V209.80" stroke="#7c7c7c" fill="none" stroke-width="0.85" />
<path d="M381.80 209.80V198.60H391.91V207.50" stroke="#7c7c7c" fill="none" stroke-width="0.85" />
<path d="M415.49 209.80V206.00H422.23V209.80" stroke="#7c7c7c" fill="none" stroke-width="0.85" />
<path d="M408.76 209.80V202.30H418.86V206.00" stroke="#7c7c7c" fill="none" stroke-width="0.85" />
<path d="M402.02 209.80V198.60H413.81V202.30" stroke="#7c7c7c" fill="none" stroke-width="0.85" />
<path d="M386.86 198.60V195.60H407.91V198.60" stroke="#7c7c7c" fill="none" stroke-width="0.85" />
<path d="M344.75 196.20V189.70H397.39V195.60" stroke="#7c7c7c" fill="none" stroke-width="0.85" />
<path d="M327.90 209.80V186.20H371.07V189.70" stroke="#7c7c7c" fill="none" stroke-width="0.85" />
<path d="M317.80 185.80V184.70H349.48V186.20" stroke="#7c7c7c" fill="none" stroke-width="0.85" />
<path d="M293.37 191.80V181.20H333.64V184.70" stroke="#7c7c7c" fill="none" stroke-width="0.85" />
<path d="M170.83 183.50V158.80H313.51V181.20" stroke="#7c7c7c" fill="none" stroke-width="0.85" />
<path d="M119.00 237.50H112.40V245.58H119.00" stroke="#7c7c7c" fill="none" stroke-width="0.85" />
<path d="M112.40 241.54H110.20V253.65H119.00" stroke="#7c7c7c" fill="none" stroke-width="0.85" />
<path d="M110.20 247.59H107.40V261.73H119.00" stroke="#7c7c7c" fill="none" stroke-width="0.85" />
<path d="M119.00 269.80H102.50V277.88H119.00" stroke="#7c7c7c" fill="none" stroke-width="0.85" />
<path d="M107.40 254.66H101.00V273.84H102.50" stroke="#7c7c7c" fill="none" stroke-width="0.85" />
<path d="M119.00 285.96H109.30V294.03H119.00" stroke="#7c7c7c" fill="none" stroke-width="0.85" />
<path d="M109.30 289.99H105.40V302.11H119.00" stroke="#7c7c7c" fill="none" stroke-width="0.85" />
<path d="M101.00 264.25H97.30V296.05H105.40" stroke="#7c7c7c" fill="none" stroke-width="0.85" />
<path d="M119.00 310.18H111.10V318.26H119.00" stroke="#7c7c7c" fill="none" stroke-width="0.85" />
<path d="M111.10 314.22H110.10V326.34H119.00" stroke="#7c7c7c" fill="none" stroke-width="0.85" />
<path d="M110.10 320.28H108.70V334.41H119.00" stroke="#7c7c7c" fill="none" stroke-width="0.85" />
<path d="M108.70 327.35H107.40V342.49H119.00" stroke="#7c7c7c" fill="none" stroke-width="0.85" />
<path d="M107.40 334.92H103.40V350.56H119.00" stroke="#7c7c7c" fill="none" stroke-width="0.85" />
<path d="M119.00 358.64H110.10V366.72H119.00" stroke="#7c7c7c" fill="none" stroke-width="0.85" />
<path d="M119.00 374.79H109.60V382.87H119.00" stroke="#7c7c7c" fill="none" stroke-width="0.85" />
<path d="M110.10 362.68H104.30V378.83H109.60" stroke="#7c7c7c" fill="none" stroke-width="0.85" />
<path d="M103.40 342.74H102.20V370.75H104.30" stroke="#7c7c7c" fill="none" stroke-width="0.85" />
<path d="M102.20 356.75H100.90V390.94H119.00" stroke="#7c7c7c" fill="none" stroke-width="0.85" />
<path d="M100.90 373.85H97.40V399.02H119.00" stroke="#7c7c7c" fill="none" stroke-width="0.85" />
<path d="M97.30 280.15H89.00V386.43H97.40" stroke="#7c7c7c" fill="none" stroke-width="0.85" />
<path d="M89.00 333.29H77.20V407.10H119.00" stroke="#7c7c7c" fill="none" stroke-width="0.85" />
<text x="120.9" y="214.0" font-size="5.5" fill="#333" text-anchor="end" font-weight="normal" font-style="normal" stroke="#333" stroke-width="0.11" textLength="26.1" lengthAdjust="spacingAndGlyphs">Shimoyama</text>
<text x="120.9" y="221.4" font-size="5.5" fill="#333" text-anchor="end" font-weight="normal" font-style="normal" stroke="#333" stroke-width="0.11" textLength="28.4" lengthAdjust="spacingAndGlyphs">classification</text>
<text x="120.9" y="232.7" font-size="5.5" fill="#333" text-anchor="end" font-weight="normal" font-style="normal" stroke="#333" stroke-width="0.11" textLength="35.7" lengthAdjust="spacingAndGlyphs">CADM1 vs CD7</text>
<text x="126.07" y="222.9" font-size="5.4" fill="#78b043" text-anchor="middle" font-weight="normal" font-style="normal" stroke="#78b043" stroke-width="0.108" >S</text>
<text x="132.81" y="222.9" font-size="5.4" fill="#5b9bd5" text-anchor="middle" font-weight="normal" font-style="normal" stroke="#5b9bd5" stroke-width="0.108" textLength="6.2" lengthAdjust="spacingAndGlyphs">AC</text>
<text x="139.54" y="222.9" font-size="5.4" fill="#78b043" text-anchor="middle" font-weight="normal" font-style="normal" stroke="#78b043" stroke-width="0.108" >S</text>
<text x="146.28" y="222.9" font-size="5.4" fill="#78b043" text-anchor="middle" font-weight="normal" font-style="normal" stroke="#78b043" stroke-width="0.108" >S</text>
<text x="153.02" y="222.9" font-size="5.4" fill="#5b9bd5" text-anchor="middle" font-weight="normal" font-style="normal" stroke="#5b9bd5" stroke-width="0.108" textLength="6.2" lengthAdjust="spacingAndGlyphs">AC</text>
<text x="159.76" y="222.9" font-size="5.4" fill="#f0b233" text-anchor="middle" font-weight="normal" font-style="normal" stroke="#f0b233" stroke-width="0.108" >C</text>
<text x="166.50" y="222.9" font-size="5.4" fill="#78b043" text-anchor="middle" font-weight="normal" font-style="normal" stroke="#78b043" stroke-width="0.108" >S</text>
<text x="173.23" y="222.9" font-size="5.4" fill="#5b9bd5" text-anchor="middle" font-weight="normal" font-style="normal" stroke="#5b9bd5" stroke-width="0.108" textLength="6.2" lengthAdjust="spacingAndGlyphs">AC</text>
<text x="179.97" y="222.9" font-size="5.4" fill="#5b9bd5" text-anchor="middle" font-weight="normal" font-style="normal" stroke="#5b9bd5" stroke-width="0.108" textLength="6.2" lengthAdjust="spacingAndGlyphs">AC</text>
<text x="186.71" y="222.9" font-size="5.4" fill="#222" text-anchor="middle" font-weight="normal" font-style="normal" stroke="#222" stroke-width="0.108" textLength="6.2" lengthAdjust="spacingAndGlyphs">HC</text>
<text x="193.45" y="222.9" font-size="5.4" fill="#222" text-anchor="middle" font-weight="normal" font-style="normal" stroke="#222" stroke-width="0.108" textLength="6.2" lengthAdjust="spacingAndGlyphs">HC</text>
<text x="200.18" y="222.9" font-size="5.4" fill="#222" text-anchor="middle" font-weight="normal" font-style="normal" stroke="#222" stroke-width="0.108" textLength="6.2" lengthAdjust="spacingAndGlyphs">HC</text>
<text x="206.92" y="222.9" font-size="5.4" fill="#78b043" text-anchor="middle" font-weight="normal" font-style="normal" stroke="#78b043" stroke-width="0.108" >S</text>
<text x="213.66" y="222.9" font-size="5.4" fill="#5b9bd5" text-anchor="middle" font-weight="normal" font-style="normal" stroke="#5b9bd5" stroke-width="0.108" textLength="6.2" lengthAdjust="spacingAndGlyphs">AC</text>
<text x="220.40" y="222.9" font-size="5.4" fill="#f0b233" text-anchor="middle" font-weight="normal" font-style="normal" stroke="#f0b233" stroke-width="0.108" >C</text>
<text x="227.14" y="222.9" font-size="5.4" fill="#f0b233" text-anchor="middle" font-weight="normal" font-style="normal" stroke="#f0b233" stroke-width="0.108" >C</text>
<text x="233.87" y="222.9" font-size="5.4" fill="#222" text-anchor="middle" font-weight="normal" font-style="normal" stroke="#222" stroke-width="0.108" textLength="6.2" lengthAdjust="spacingAndGlyphs">HC</text>
<text x="240.61" y="222.9" font-size="5.4" fill="#222" text-anchor="middle" font-weight="normal" font-style="normal" stroke="#222" stroke-width="0.108" textLength="6.2" lengthAdjust="spacingAndGlyphs">HC</text>
<text x="247.35" y="222.9" font-size="5.4" fill="#78b043" text-anchor="middle" font-weight="normal" font-style="normal" stroke="#78b043" stroke-width="0.108" >S</text>
<text x="254.09" y="222.9" font-size="5.4" fill="#f0b233" text-anchor="middle" font-weight="normal" font-style="normal" stroke="#f0b233" stroke-width="0.108" >C</text>
<text x="260.82" y="222.9" font-size="5.4" fill="#222" text-anchor="middle" font-weight="normal" font-style="normal" stroke="#222" stroke-width="0.108" textLength="6.2" lengthAdjust="spacingAndGlyphs">HC</text>
<text x="267.56" y="222.9" font-size="5.4" fill="#222" text-anchor="middle" font-weight="normal" font-style="normal" stroke="#222" stroke-width="0.108" textLength="6.2" lengthAdjust="spacingAndGlyphs">HC</text>
<text x="274.30" y="222.9" font-size="5.4" fill="#222" text-anchor="middle" font-weight="normal" font-style="normal" stroke="#222" stroke-width="0.108" textLength="6.2" lengthAdjust="spacingAndGlyphs">HC</text>
<text x="281.04" y="222.9" font-size="5.4" fill="#222" text-anchor="middle" font-weight="normal" font-style="normal" stroke="#222" stroke-width="0.108" textLength="6.2" lengthAdjust="spacingAndGlyphs">HC</text>
<text x="287.78" y="222.9" font-size="5.4" fill="#d9252a" text-anchor="middle" font-weight="normal" font-style="normal" stroke="#d9252a" stroke-width="0.108" >A</text>
<text x="294.51" y="222.9" font-size="5.4" fill="#d9252a" text-anchor="middle" font-weight="normal" font-style="normal" stroke="#d9252a" stroke-width="0.108" >A</text>
<text x="328.20" y="222.9" font-size="5.4" fill="#d9252a" text-anchor="middle" font-weight="normal" font-style="normal" stroke="#d9252a" stroke-width="0.108" >A</text>
<text x="334.94" y="222.9" font-size="5.4" fill="#f0b233" text-anchor="middle" font-weight="normal" font-style="normal" stroke="#f0b233" stroke-width="0.108" >C</text>
<text x="341.68" y="222.9" font-size="5.4" fill="#f0b233" text-anchor="middle" font-weight="normal" font-style="normal" stroke="#f0b233" stroke-width="0.108" >C</text>
<text x="348.42" y="222.9" font-size="5.4" fill="#f0b233" text-anchor="middle" font-weight="normal" font-style="normal" stroke="#f0b233" stroke-width="0.108" >C</text>
<text x="355.15" y="222.9" font-size="5.4" fill="#f0b233" text-anchor="middle" font-weight="normal" font-style="normal" stroke="#f0b233" stroke-width="0.108" >C</text>
<text x="361.89" y="222.9" font-size="5.4" fill="#78b043" text-anchor="middle" font-weight="normal" font-style="normal" stroke="#78b043" stroke-width="0.108" >S</text>
<text x="368.63" y="222.9" font-size="5.4" fill="#5b9bd5" text-anchor="middle" font-weight="normal" font-style="normal" stroke="#5b9bd5" stroke-width="0.108" textLength="6.2" lengthAdjust="spacingAndGlyphs">AC</text>
<text x="375.37" y="222.9" font-size="5.4" fill="#5b9bd5" text-anchor="middle" font-weight="normal" font-style="normal" stroke="#5b9bd5" stroke-width="0.108" textLength="6.2" lengthAdjust="spacingAndGlyphs">AC</text>
<text x="388.84" y="222.9" font-size="5.4" fill="#f0b233" text-anchor="middle" font-weight="normal" font-style="normal" stroke="#f0b233" stroke-width="0.108" >C</text>
<text x="395.58" y="222.9" font-size="5.4" fill="#f0b233" text-anchor="middle" font-weight="normal" font-style="normal" stroke="#f0b233" stroke-width="0.108" >C</text>
<text x="402.32" y="222.9" font-size="5.4" fill="#78b043" text-anchor="middle" font-weight="normal" font-style="normal" stroke="#78b043" stroke-width="0.108" >S</text>
<text x="409.06" y="222.9" font-size="5.4" fill="#f0b233" text-anchor="middle" font-weight="normal" font-style="normal" stroke="#f0b233" stroke-width="0.108" >C</text>
<text x="415.79" y="222.9" font-size="5.4" fill="#5b9bd5" text-anchor="middle" font-weight="normal" font-style="normal" stroke="#5b9bd5" stroke-width="0.108" textLength="6.2" lengthAdjust="spacingAndGlyphs">AC</text>
<text x="422.53" y="222.9" font-size="5.4" fill="#78b043" text-anchor="middle" font-weight="normal" font-style="normal" stroke="#78b043" stroke-width="0.108" >S</text>
<text x="126.07" y="232.7" font-size="5.4" fill="#f3bf4c" text-anchor="middle" font-weight="normal" font-style="normal" stroke="#f3bf4c" stroke-width="0.04" >D</text>
<text x="132.81" y="232.7" font-size="5.4" fill="#f3bf4c" text-anchor="middle" font-weight="normal" font-style="normal" stroke="#f3bf4c" stroke-width="0.04" >D</text>
<text x="139.54" y="232.7" font-size="5.4" fill="#f3bf4c" text-anchor="middle" font-weight="normal" font-style="normal" stroke="#f3bf4c" stroke-width="0.04" >D</text>
<text x="146.28" y="232.7" font-size="5.4" fill="#f3bf4c" text-anchor="middle" font-weight="normal" font-style="normal" stroke="#f3bf4c" stroke-width="0.04" >D</text>
<text x="153.02" y="232.7" font-size="5.4" fill="#f3bf4c" text-anchor="middle" font-weight="normal" font-style="normal" stroke="#f3bf4c" stroke-width="0.04" >D</text>
<text x="159.76" y="232.7" font-size="5.4" fill="#78b0e2" text-anchor="middle" font-weight="normal" font-style="normal" stroke="#78b0e2" stroke-width="0.04" >P</text>
<text x="166.50" y="232.7" font-size="5.4" fill="#78b0e2" text-anchor="middle" font-weight="normal" font-style="normal" stroke="#78b0e2" stroke-width="0.04" >P</text>
<text x="173.23" y="232.7" font-size="5.4" fill="#78b0e2" text-anchor="middle" font-weight="normal" font-style="normal" stroke="#78b0e2" stroke-width="0.04" >P</text>
<text x="179.97" y="232.7" font-size="5.4" fill="#78b0e2" text-anchor="middle" font-weight="normal" font-style="normal" stroke="#78b0e2" stroke-width="0.04" >P</text>
<text x="186.71" y="232.7" font-size="5.4" fill="#78b0e2" text-anchor="middle" font-weight="normal" font-style="normal" stroke="#78b0e2" stroke-width="0.04" >P</text>
<text x="193.45" y="232.7" font-size="5.4" fill="#78b0e2" text-anchor="middle" font-weight="normal" font-style="normal" stroke="#78b0e2" stroke-width="0.04" >P</text>
<text x="200.18" y="232.7" font-size="5.4" fill="#78b0e2" text-anchor="middle" font-weight="normal" font-style="normal" stroke="#78b0e2" stroke-width="0.04" >P</text>
<text x="206.92" y="232.7" font-size="5.4" fill="#78b0e2" text-anchor="middle" font-weight="normal" font-style="normal" stroke="#78b0e2" stroke-width="0.04" >P</text>
<text x="213.66" y="232.7" font-size="5.4" fill="#78b0e2" text-anchor="middle" font-weight="normal" font-style="normal" stroke="#78b0e2" stroke-width="0.04" >P</text>
<text x="220.40" y="232.7" font-size="5.4" fill="#78b0e2" text-anchor="middle" font-weight="normal" font-style="normal" stroke="#78b0e2" stroke-width="0.04" >P</text>
<text x="227.14" y="232.7" font-size="5.4" fill="#78b0e2" text-anchor="middle" font-weight="normal" font-style="normal" stroke="#78b0e2" stroke-width="0.04" >P</text>
<text x="233.87" y="232.7" font-size="5.4" fill="#78b0e2" text-anchor="middle" font-weight="normal" font-style="normal" stroke="#78b0e2" stroke-width="0.04" >P</text>
<text x="240.61" y="232.7" font-size="5.4" fill="#78b0e2" text-anchor="middle" font-weight="normal" font-style="normal" stroke="#78b0e2" stroke-width="0.04" >P</text>
<text x="247.35" y="232.7" font-size="5.4" fill="#78b0e2" text-anchor="middle" font-weight="normal" font-style="normal" stroke="#78b0e2" stroke-width="0.04" >P</text>
<text x="254.09" y="232.7" font-size="5.4" fill="#78b0e2" text-anchor="middle" font-weight="normal" font-style="normal" stroke="#78b0e2" stroke-width="0.04" >P</text>
<text x="260.82" y="232.7" font-size="5.4" fill="#78b0e2" text-anchor="middle" font-weight="normal" font-style="normal" stroke="#78b0e2" stroke-width="0.04" >P</text>
<text x="267.56" y="232.7" font-size="5.4" fill="#78b0e2" text-anchor="middle" font-weight="normal" font-style="normal" stroke="#78b0e2" stroke-width="0.04" >P</text>
<text x="274.30" y="232.7" font-size="5.4" fill="#78b0e2" text-anchor="middle" font-weight="normal" font-style="normal" stroke="#78b0e2" stroke-width="0.04" >P</text>
<text x="281.04" y="232.7" font-size="5.4" fill="#78b0e2" text-anchor="middle" font-weight="normal" font-style="normal" stroke="#78b0e2" stroke-width="0.04" >P</text>
<text x="287.78" y="232.7" font-size="5.4" fill="#dc3a3e" text-anchor="middle" font-weight="normal" font-style="normal" stroke="#dc3a3e" stroke-width="0.04" >N</text>
<text x="294.51" y="232.7" font-size="5.4" fill="#dc3a3e" text-anchor="middle" font-weight="normal" font-style="normal" stroke="#dc3a3e" stroke-width="0.04" >N</text>
<text x="328.20" y="232.7" font-size="5.4" fill="#dc3a3e" text-anchor="middle" font-weight="normal" font-style="normal" stroke="#dc3a3e" stroke-width="0.04" >N</text>
<text x="334.94" y="232.7" font-size="5.4" fill="#f3bf4c" text-anchor="middle" font-weight="normal" font-style="normal" stroke="#f3bf4c" stroke-width="0.04" >D</text>
<text x="341.68" y="232.7" font-size="5.4" fill="#f3bf4c" text-anchor="middle" font-weight="normal" font-style="normal" stroke="#f3bf4c" stroke-width="0.04" >D</text>
<text x="348.42" y="232.7" font-size="5.4" fill="#dc3a3e" text-anchor="middle" font-weight="normal" font-style="normal" stroke="#dc3a3e" stroke-width="0.04" >N</text>
<text x="355.15" y="232.7" font-size="5.4" fill="#dc3a3e" text-anchor="middle" font-weight="normal" font-style="normal" stroke="#dc3a3e" stroke-width="0.04" >N</text>
<text x="361.89" y="232.7" font-size="5.4" fill="#dc3a3e" text-anchor="middle" font-weight="normal" font-style="normal" stroke="#dc3a3e" stroke-width="0.04" >N</text>
<text x="368.63" y="232.7" font-size="5.4" fill="#dc3a3e" text-anchor="middle" font-weight="normal" font-style="normal" stroke="#dc3a3e" stroke-width="0.04" >N</text>
<text x="375.37" y="232.7" font-size="5.4" fill="#dc3a3e" text-anchor="middle" font-weight="normal" font-style="normal" stroke="#dc3a3e" stroke-width="0.04" >N</text>
<text x="388.84" y="232.7" font-size="5.4" fill="#f3bf4c" text-anchor="middle" font-weight="normal" font-style="normal" stroke="#f3bf4c" stroke-width="0.04" >D</text>
<text x="395.58" y="232.7" font-size="5.4" fill="#dc3a3e" text-anchor="middle" font-weight="normal" font-style="normal" stroke="#dc3a3e" stroke-width="0.04" >N</text>
<text x="402.32" y="232.7" font-size="5.4" fill="#dc3a3e" text-anchor="middle" font-weight="normal" font-style="normal" stroke="#dc3a3e" stroke-width="0.04" >N</text>
<text x="409.06" y="232.7" font-size="5.4" fill="#dc3a3e" text-anchor="middle" font-weight="normal" font-style="normal" stroke="#dc3a3e" stroke-width="0.04" >N</text>
<text x="415.79" y="232.7" font-size="5.4" fill="#dc3a3e" text-anchor="middle" font-weight="normal" font-style="normal" stroke="#dc3a3e" stroke-width="0.04" >N</text>
<text x="422.53" y="232.7" font-size="5.4" fill="#dc3a3e" text-anchor="middle" font-weight="normal" font-style="normal" stroke="#dc3a3e" stroke-width="0.04" >N</text>
<text x="186.71" y="216.4" font-size="5.2" fill="#222" text-anchor="middle" font-weight="normal" font-style="normal" stroke="#222" stroke-width="0.104" >y</text>
<text x="193.45" y="216.4" font-size="5.2" fill="#222" text-anchor="middle" font-weight="normal" font-style="normal" stroke="#222" stroke-width="0.104" >y</text>
<text x="200.18" y="216.4" font-size="5.2" fill="#222" text-anchor="middle" font-weight="normal" font-style="normal" stroke="#222" stroke-width="0.104" >a</text>
<text x="233.87" y="216.4" font-size="5.2" fill="#222" text-anchor="middle" font-weight="normal" font-style="normal" stroke="#222" stroke-width="0.104" >a</text>
<text x="240.61" y="216.4" font-size="5.2" fill="#222" text-anchor="middle" font-weight="normal" font-style="normal" stroke="#222" stroke-width="0.104" >y</text>
<text x="260.82" y="216.4" font-size="5.2" fill="#222" text-anchor="middle" font-weight="normal" font-style="normal" stroke="#222" stroke-width="0.104" >a</text>
<text x="267.56" y="216.4" font-size="5.2" fill="#222" text-anchor="middle" font-weight="normal" font-style="normal" stroke="#222" stroke-width="0.104" >a</text>
<text x="274.30" y="216.4" font-size="5.2" fill="#222" text-anchor="middle" font-weight="normal" font-style="normal" stroke="#222" stroke-width="0.104" >a</text>
<text x="281.04" y="216.4" font-size="5.2" fill="#222" text-anchor="middle" font-weight="normal" font-style="normal" stroke="#222" stroke-width="0.104" >a</text>
<text transform="translate(303.05,232.9) rotate(-90)" font-size="5.2" fill="#222">ST-1</text>
<text transform="translate(309.79,232.9) rotate(-90)" font-size="5.2" fill="#222">KOB</text>
<text transform="translate(316.53,232.9) rotate(-90)" font-size="5.2" fill="#222">ATN-1</text>
<text transform="translate(323.26,232.9) rotate(-90)" font-size="5.2" fill="#222">MT-2</text>
<text x="385.0" y="232.9" font-size="5" fill="#000" text-anchor="start" font-weight="normal" font-style="normal" stroke="#000" stroke-width="0.1" ></text>
<text transform="translate(383.90,232.9) rotate(-90)" font-size="5.2" fill="#222">KK-1</text>
<text x="8.3" y="432.9" font-size="13.9" fill="#000" text-anchor="start" font-weight="bold" font-style="normal" stroke="#000" stroke-width="0.45" textLength="8.8" lengthAdjust="spacingAndGlyphs">C</text>
<line x1="57.8" y1="444.6" x2="57.8" y2="636.2" stroke="#222" stroke-width="1.3" />
<line x1="57.2" y1="635.6" x2="221" y2="635.6" stroke="#222" stroke-width="1.3" />
<line x1="54.5" y1="635.6" x2="57.8" y2="635.6" stroke="#222" stroke-width="1.0" />
<text x="50.7" y="639.1" font-size="9.8" fill="#1a1a1a" text-anchor="end" font-weight="normal" font-style="normal" stroke="#1a1a1a" stroke-width="0.196" >0</text>
<line x1="54.5" y1="598.1" x2="57.8" y2="598.1" stroke="#222" stroke-width="1.0" />
<text x="50.7" y="601.6" font-size="9.8" fill="#1a1a1a" text-anchor="end" font-weight="normal" font-style="normal" stroke="#1a1a1a" stroke-width="0.196" textLength="12.7" lengthAdjust="spacingAndGlyphs">0.2</text>
<line x1="54.5" y1="560.6" x2="57.8" y2="560.6" stroke="#222" stroke-width="1.0" />
<text x="50.7" y="564.1" font-size="9.8" fill="#1a1a1a" text-anchor="end" font-weight="normal" font-style="normal" stroke="#1a1a1a" stroke-width="0.196" textLength="12.7" lengthAdjust="spacingAndGlyphs">0.4</text>
<line x1="54.5" y1="523.1" x2="57.8" y2="523.1" stroke="#222" stroke-width="1.0" />
<text x="50.7" y="526.6" font-size="9.8" fill="#1a1a1a" text-anchor="end" font-weight="normal" font-style="normal" stroke="#1a1a1a" stroke-width="0.196" textLength="12.7" lengthAdjust="spacingAndGlyphs">0.6</text>
<line x1="54.5" y1="485.6" x2="57.8" y2="485.6" stroke="#222" stroke-width="1.0" />
<text x="50.7" y="489.1" font-size="9.8" fill="#1a1a1a" text-anchor="end" font-weight="normal" font-style="normal" stroke="#1a1a1a" stroke-width="0.196" textLength="12.7" lengthAdjust="spacingAndGlyphs">0.8</text>
<line x1="54.5" y1="448.1" x2="57.8" y2="448.1" stroke="#222" stroke-width="1.0" />
<text x="50.7" y="451.6" font-size="9.8" fill="#1a1a1a" text-anchor="end" font-weight="normal" font-style="normal" stroke="#1a1a1a" stroke-width="0.196" >1</text>
<text transform="translate(31.3,539.6) rotate(-90)" font-size="9.8" fill="#1a1a1a" stroke="#1a1a1a" stroke-width="0.17" text-anchor="middle" textLength="139" lengthAdjust="spacingAndGlyphs">CpG methylation (mean of &#946; value)</text>
<path d="M74.8 593.1H113 M94.8 593.1V463.1H131.6V494.3 M121.4 494.3H146.7 M137.4 494.3V446.8H173.3V464.4 M157.9 464.4H188.1" stroke="#333" fill="none" stroke-width="1.2" />
<text x="104.6" y="463.20000000000005" font-size="9.5" fill="#222" text-anchor="middle" font-weight="normal" font-style="normal" stroke="#222" stroke-width="0.19" >*</text>
<text x="115" y="463.20000000000005" font-size="9.5" fill="#222" text-anchor="middle" font-weight="normal" font-style="normal" stroke="#222" stroke-width="0.19" >*</text>
<text x="151.2" y="446.90000000000003" font-size="9.5" fill="#222" text-anchor="middle" font-weight="normal" font-style="normal" stroke="#222" stroke-width="0.19" >*</text>
<text x="160.7" y="446.90000000000003" font-size="9.5" fill="#222" text-anchor="middle" font-weight="normal" font-style="normal" stroke="#222" stroke-width="0.19" >*</text>
<circle cx="78" cy="608.3" r="2.75" fill="#62a6e0"/>
<circle cx="78" cy="611.6" r="2.75" fill="#62a6e0"/>
<circle cx="86.2" cy="601.1" r="2.75" fill="#62a6e0"/>
<circle cx="86.2" cy="604.4" r="2.75" fill="#62a6e0"/>
<circle cx="86.2" cy="608.8" r="2.75" fill="#62a6e0"/>
<circle cx="94.5" cy="605.9" r="2.75" fill="#1f3f7e"/>
<circle cx="94.5" cy="609.7" r="2.75" fill="#1f3f7e"/>
<path d="M102.7 600.9L105.2 605.6999999999999L100.2 605.6999999999999Z" fill="#1f3f7e"/>
<path d="M102.7 610.7L105.2 615.5L100.2 615.5Z" fill="#1f3f7e"/>
<rect x="108.3" y="596.8000000000001" width="4.6" height="4.6" fill="#1f3f7e"/>
<rect x="108.3" y="601.4000000000001" width="4.6" height="4.6" fill="#1f3f7e"/>
<rect x="108.3" y="605.6" width="4.6" height="4.6" fill="#1f3f7e"/>
<rect x="108.3" y="609.6" width="4.6" height="4.6" fill="#1f3f7e"/>
<line x1="108.3" y1="601.4" x2="112.9" y2="601.4" stroke="#9db0d0" stroke-width="0.6"/>
<circle cx="127" cy="544.3" r="2.75" fill="#e8952a"/>
<circle cx="127" cy="575.7" r="2.75" fill="#e8952a"/>
<path d="M135.3 543.1L137.8 547.9L132.8 547.9Z" fill="#e8952a"/>
<path d="M135.3 546.7L137.8 551.5L132.8 551.5Z" fill="#e8952a"/>
<path d="M135.3 575.4L137.8 580.1999999999999L132.8 580.1999999999999Z" fill="#e8952a"/>
<rect x="141.1" y="500.20000000000005" width="4.8" height="4.8" fill="#e8952a"/>
<rect x="141.1" y="505.8" width="4.8" height="4.8" fill="#e8952a"/>
<rect x="141.1" y="524.1" width="4.8" height="4.8" fill="#e8952a"/>
<line x1="141.1" y1="505.4" x2="145.9" y2="505.4" stroke="#f5c880" stroke-width="0.6"/>
<circle cx="159.5" cy="497" r="2.75" fill="#b0173e"/>
<circle cx="159.5" cy="510.7" r="2.75" fill="#b0173e"/>
<circle cx="159.5" cy="515.8" r="2.75" fill="#b0173e"/>
<path d="M167.8 492.5L170.3 497.29999999999995L165.3 497.29999999999995Z" fill="#b0173e"/>
<path d="M167.8 517.1L170.3 521.9L165.3 521.9Z" fill="#b0173e"/>
<rect x="173.79999999999998" y="491.40000000000003" width="4.8" height="4.8" fill="#b0173e"/>
<rect x="173.79999999999998" y="496.90000000000003" width="4.8" height="4.8" fill="#b0173e"/>
<rect x="173.79999999999998" y="506.5" width="4.8" height="4.8" fill="#b0173e"/>
<rect x="173.79999999999998" y="523.6" width="4.8" height="4.8" fill="#b0173e"/>
<path d="M184 468.6L186.2 470.8L184 473.0L181.8 470.8Z" fill="#b0173e"/>
<path d="M184 474.8L186.2 477.0L184 479.2L181.8 477.0Z" fill="#b0173e"/>
<path d="M184 500.0L186.2 502.2L184 504.4L181.8 502.2Z" fill="#b0173e"/>
<path d="M200.6 481.3L202.79999999999998 483.5L200.6 485.7L198.4 483.5Z" fill="#3d0a5e"/>
<path d="M200.6 486.6L202.79999999999998 488.8L200.6 491.0L198.4 488.8Z" fill="#3d0a5e"/>
<path d="M200.6 495.40000000000003L202.79999999999998 497.6L200.6 499.8L198.4 497.6Z" fill="#3d0a5e"/>
<path d="M200.6 496.7L202.79999999999998 498.9L200.6 501.09999999999997L198.4 498.9Z" fill="#3d0a5e"/>
<path d="M200.6 540.0L202.79999999999998 542.2L200.6 544.4000000000001L198.4 542.2Z" fill="#3d0a5e"/>
<text transform="translate(212.2,473.6) rotate(-45)" font-size="8.5" fill="#1a1a1a" stroke="#1a1a1a" stroke-width="0.15">KOB</text>
<text transform="translate(210.0,484.8) rotate(-45)" font-size="8.5" fill="#1a1a1a" stroke="#1a1a1a" stroke-width="0.15">ST-1</text>
<text transform="translate(210.2,493.2) rotate(-45)" font-size="8.5" fill="#1a1a1a" stroke="#1a1a1a" stroke-width="0.15">KK-1</text>
<text transform="translate(209.6,504.8) rotate(-45)" font-size="8.5" fill="#1a1a1a" stroke="#1a1a1a" stroke-width="0.15">MT-2</text>
<text transform="translate(209.4,542.2) rotate(-45)" font-size="8.5" fill="#1a1a1a" stroke="#1a1a1a" stroke-width="0.15">ATN-1</text>
<text transform="translate(83.5,644.0) rotate(-45)" font-size="9.2" fill="#1a1a1a" stroke="#1a1a1a" stroke-width="0.16" text-anchor="end">yHC</text>
<text transform="translate(90.8,644.0) rotate(-45)" font-size="9.2" fill="#1a1a1a" stroke="#1a1a1a" stroke-width="0.16" text-anchor="end">aHC</text>
<text transform="translate(97.8,644.0) rotate(-45)" font-size="9.2" fill="#1a1a1a" stroke="#1a1a1a" stroke-width="0.16" text-anchor="end">AC</text>
<text transform="translate(105.2,644.0) rotate(-45)" font-size="9.2" fill="#1a1a1a" stroke="#1a1a1a" stroke-width="0.16" text-anchor="end">S</text>
<text transform="translate(115.2,644.0) rotate(-45)" font-size="9.2" fill="#1a1a1a" stroke="#1a1a1a" stroke-width="0.16" text-anchor="end">C</text>
<text transform="translate(131.1,644.0) rotate(-45)" font-size="9.2" fill="#1a1a1a" stroke="#1a1a1a" stroke-width="0.16" text-anchor="end">AC</text>
<text transform="translate(140.0,644.0) rotate(-45)" font-size="9.2" fill="#1a1a1a" stroke="#1a1a1a" stroke-width="0.16" text-anchor="end">S</text>
<text transform="translate(149.5,644.0) rotate(-45)" font-size="9.2" fill="#1a1a1a" stroke="#1a1a1a" stroke-width="0.16" text-anchor="end">C</text>
<text transform="translate(165.0,644.0) rotate(-45)" font-size="9.2" fill="#1a1a1a" stroke="#1a1a1a" stroke-width="0.16" text-anchor="end">AC</text>
<text transform="translate(173.2,644.0) rotate(-45)" font-size="9.2" fill="#1a1a1a" stroke="#1a1a1a" stroke-width="0.16" text-anchor="end">S</text>
<text transform="translate(180.9,644.0) rotate(-45)" font-size="9.2" fill="#1a1a1a" stroke="#1a1a1a" stroke-width="0.16" text-anchor="end">C</text>
<text transform="translate(190.1,644.0) rotate(-45)" font-size="9.2" fill="#1a1a1a" stroke="#1a1a1a" stroke-width="0.16" text-anchor="end">A</text>
<text transform="translate(205.1,644.0) rotate(-45)" font-size="9.2" fill="#1a1a1a" stroke="#1a1a1a" stroke-width="0.16" text-anchor="end">Cell lines</text>
<line x1="70.8" y1="671.6" x2="111.7" y2="671.6" stroke="#555" stroke-width="1.3" />
<line x1="120.9" y1="671.6" x2="147.1" y2="671.6" stroke="#555" stroke-width="1.3" />
<line x1="157.8" y1="671.6" x2="192.3" y2="671.6" stroke="#555" stroke-width="1.3" />
<text x="90.8" y="683.3" font-size="9.4" fill="#6aaee6" text-anchor="middle" font-weight="normal" font-style="normal" stroke="#6aaee6" stroke-width="0.188" >P</text>
<text x="133.8" y="683.3" font-size="9.4" fill="#e8952a" text-anchor="middle" font-weight="normal" font-style="normal" stroke="#e8952a" stroke-width="0.188" >D</text>
<text x="174.8" y="683.3" font-size="9.4" fill="#b0173e" text-anchor="middle" font-weight="normal" font-style="normal" stroke="#b0173e" stroke-width="0.188" >N</text>
<text x="246.0" y="432.7" font-size="13.9" fill="#000" text-anchor="start" font-weight="bold" font-style="normal" stroke="#000" stroke-width="0.45" textLength="9.1" lengthAdjust="spacingAndGlyphs">D</text>
<defs><clipPath id="ct"><rect x="282.2" y="467.5" width="88.6" height="66.6"/></clipPath></defs>
<g clip-path="url(#ct)">
<defs><clipPath id="hu1"><path d="M283.50 534.10L283.50 534.10L285.50 533.19L288.70 524.95L291.50 518.24L294.40 509.70L296.50 495.67L297.50 485.30L298.80 479.20L299.80 482.25L300.80 474.93L302.00 479.20L303.50 484.08L306.50 492.62L308.80 502.38L311.10 513.97L313.40 520.07L315.80 522.51L318.10 527.09L321.50 531.05L326.10 533.19L332.00 534.10L332.00 534.10Z"/><path d="M283.50 534.10L283.50 534.10L285.50 533.19L288.70 525.56L291.50 519.46L294.40 511.53L297.30 497.50L299.00 488.35L301.30 481.03L302.50 480.42L304.20 485.30L306.50 492.62L308.80 502.99L311.10 514.58L313.40 520.68L315.80 522.82L318.10 527.39L321.50 531.36L326.10 533.19L332.00 534.10L332.00 534.10Z"/></clipPath></defs>
<path d="M296.00 534.10L296.00 534.10L298.50 533.49L303.10 528.00L307.10 513.36L309.40 502.38L312.30 495.06L314.60 487.74L316.90 482.25L319.80 481.03L321.50 479.81L323.30 477.07L325.00 482.25L327.30 483.17L329.00 487.13L330.70 496.28L333.00 499.33L335.40 502.69L337.70 508.48L340.00 513.97L341.50 515.80L344.00 520.68L348.00 524.95L353.00 528.61L358.00 531.42L364.00 532.70L369.00 533.80L370.30 534.10L370.30 534.10Z" stroke="none" fill="#b3cff0" stroke-width="1" />
<path d="M296.00 534.10L298.50 533.49L303.10 528.00L307.10 513.36L309.40 502.38L312.30 495.06L314.60 487.74L316.90 482.25L319.80 481.03L321.50 479.81L323.30 477.07L325.00 482.25L327.30 483.17L329.00 487.13L330.70 496.28L333.00 499.33L335.40 502.69L337.70 508.48L340.00 513.97L341.50 515.80L344.00 520.68L348.00 524.95L353.00 528.61L358.00 531.42L364.00 532.70L369.00 533.80L370.30 534.10" stroke="#5b9bd5" fill="none" stroke-width="0.9" />
<path d="M283.50 534.10L283.50 534.10L285.50 533.19L288.70 524.95L291.50 518.24L294.40 509.70L296.50 495.67L297.50 485.30L298.80 479.20L299.80 482.25L300.80 474.93L302.00 479.20L303.50 484.08L306.50 492.62L308.80 502.38L311.10 513.97L313.40 520.07L315.80 522.51L318.10 527.09L321.50 531.05L326.10 533.19L332.00 534.10L332.00 534.10Z" stroke="none" fill="#c87c52" stroke-width="1" />
<path d="M283.50 534.10L283.50 534.10L285.50 533.19L288.70 525.56L291.50 519.46L294.40 511.53L297.30 497.50L299.00 488.35L301.30 481.03L302.50 480.42L304.20 485.30L306.50 492.62L308.80 502.99L311.10 514.58L313.40 520.68L315.80 522.82L318.10 527.39L321.50 531.36L326.10 533.19L332.00 534.10L332.00 534.10Z" stroke="none" fill="#c87c52" stroke-width="1" />
<g clip-path="url(#hu1)">
<path d="M296.00 534.10L296.00 534.10L298.50 533.49L303.10 528.00L307.10 513.36L309.40 502.38L312.30 495.06L314.60 487.74L316.90 482.25L319.80 481.03L321.50 479.81L323.30 477.07L325.00 482.25L327.30 483.17L329.00 487.13L330.70 496.28L333.00 499.33L335.40 502.69L337.70 508.48L340.00 513.97L341.50 515.80L344.00 520.68L348.00 524.95L353.00 528.61L358.00 531.42L364.00 532.70L369.00 533.80L370.30 534.10L370.30 534.10Z" stroke="none" fill="#8c654d" stroke-width="1" />
<path d="M296.00 534.10L298.50 533.49L303.10 528.00L307.10 513.36L309.40 502.38L312.30 495.06L314.60 487.74L316.90 482.25L319.80 481.03L321.50 479.81L323.30 477.07L325.00 482.25L327.30 483.17L329.00 487.13L330.70 496.28L333.00 499.33L335.40 502.69L337.70 508.48L340.00 513.97L341.50 515.80L344.00 520.68L348.00 524.95L353.00 528.61L358.00 531.42L364.00 532.70L369.00 533.80L370.30 534.10" stroke="#474b44" fill="none" stroke-width="0.9" />
</g>
<path d="M283.50 534.10L285.50 533.19L288.70 524.95L291.50 518.24L294.40 509.70L296.50 495.67L297.50 485.30L298.80 479.20L299.80 482.25L300.80 474.93L302.00 479.20L303.50 484.08L306.50 492.62L308.80 502.38L311.10 513.97L313.40 520.07L315.80 522.51L318.10 527.09L321.50 531.05L326.10 533.19L332.00 534.10" stroke="#eea020" fill="none" stroke-width="1.0" />
<path d="M283.50 534.10L285.50 533.19L288.70 525.56L291.50 519.46L294.40 511.53L297.30 497.50L299.00 488.35L301.30 481.03L302.50 480.42L304.20 485.30L306.50 492.62L308.80 502.99L311.10 514.58L313.40 520.68L315.80 522.82L318.10 527.39L321.50 531.36L326.10 533.19L332.00 534.10" stroke="#a3122a" fill="none" stroke-width="1.1" />
<path d="M283.50 521.90L284.00 521.60L286.90 509.09L289.20 490.79L291.50 481.03L292.50 477.98L293.80 473.71L294.80 475.54L295.60 474.93L297.30 482.25L298.50 491.40L300.20 505.43L301.90 517.02L304.20 526.17L306.00 531.05L307.70 533.80L309.00 534.10" stroke="#8cc0ee" fill="none" stroke-width="1.0" stroke-dasharray="2.1 2.1" stroke-dashoffset="1.0"/>
<path d="M283.50 521.90L284.00 521.60L286.90 509.09L289.20 490.79L291.50 481.03L292.50 477.98L293.80 473.71L294.80 475.54L295.60 474.93L297.30 482.25L298.50 491.40L300.20 505.43L301.90 517.02L304.20 526.17L306.00 531.05L307.70 533.80L309.00 534.10" stroke="#eda22a" fill="none" stroke-width="1.15" stroke-dasharray="2.1 2.1" stroke-dashoffset="0"/>
<path d="M283.50 521.90L284.00 521.60L286.90 509.09L289.20 490.79L291.50 481.03L292.50 479.20L293.80 479.20L295.60 481.03L297.30 485.30L298.50 493.23L300.20 505.43L301.90 517.02L304.20 526.17L306.00 531.05L307.70 533.80L309.00 534.10" stroke="#c0163a" fill="none" stroke-width="1.15" stroke-dasharray="2.1 2.1" stroke-dashoffset="2.1"/>
</g>
<rect x="282.2" y="467.5" width="88.60000000000002" height="66.60000000000002" fill="none" stroke="#111" stroke-width="1.3"/>
<line x1="279.0" y1="534.1" x2="282.2" y2="534.1" stroke="#111" stroke-width="1.0" />
<text x="275.09999999999997" y="537.5500000000001" font-size="9.8" fill="#1a1a1a" text-anchor="end" font-weight="normal" font-style="normal" stroke="#1a1a1a" stroke-width="0.196" >0</text>
<line x1="279.0" y1="521.9" x2="282.2" y2="521.9" stroke="#111" stroke-width="1.0" />
<text x="275.09999999999997" y="525.35" font-size="9.8" fill="#1a1a1a" text-anchor="end" font-weight="normal" font-style="normal" stroke="#1a1a1a" stroke-width="0.196" textLength="9.8" lengthAdjust="spacingAndGlyphs">20</text>
<line x1="279.0" y1="509.70000000000005" x2="282.2" y2="509.70000000000005" stroke="#111" stroke-width="1.0" />
<text x="275.09999999999997" y="513.1500000000001" font-size="9.8" fill="#1a1a1a" text-anchor="end" font-weight="normal" font-style="normal" stroke="#1a1a1a" stroke-width="0.196" textLength="9.8" lengthAdjust="spacingAndGlyphs">40</text>
<line x1="279.0" y1="497.5" x2="282.2" y2="497.5" stroke="#111" stroke-width="1.0" />
<text x="275.09999999999997" y="500.95" font-size="9.8" fill="#1a1a1a" text-anchor="end" font-weight="normal" font-style="normal" stroke="#1a1a1a" stroke-width="0.196" textLength="9.8" lengthAdjust="spacingAndGlyphs">60</text>
<line x1="279.0" y1="485.3" x2="282.2" y2="485.3" stroke="#111" stroke-width="1.0" />
<text x="275.09999999999997" y="488.75" font-size="9.8" fill="#1a1a1a" text-anchor="end" font-weight="normal" font-style="normal" stroke="#1a1a1a" stroke-width="0.196" textLength="9.8" lengthAdjust="spacingAndGlyphs">80</text>
<line x1="279.0" y1="473.1" x2="282.2" y2="473.1" stroke="#111" stroke-width="1.0" />
<text x="275.09999999999997" y="476.55" font-size="9.8" fill="#1a1a1a" text-anchor="end" font-weight="normal" font-style="normal" stroke="#1a1a1a" stroke-width="0.196" textLength="14.7" lengthAdjust="spacingAndGlyphs">100</text>
<line x1="280.4" y1="528.0" x2="282.2" y2="528.0" stroke="#111" stroke-width="0.7" />
<line x1="280.4" y1="515.8000000000001" x2="282.2" y2="515.8000000000001" stroke="#111" stroke-width="0.7" />
<line x1="280.4" y1="503.6" x2="282.2" y2="503.6" stroke="#111" stroke-width="0.7" />
<line x1="280.4" y1="491.40000000000003" x2="282.2" y2="491.40000000000003" stroke="#111" stroke-width="0.7" />
<line x1="280.4" y1="479.20000000000005" x2="282.2" y2="479.20000000000005" stroke="#111" stroke-width="0.7" />
<line x1="300.5" y1="534.7" x2="300.5" y2="537.7" stroke="#111" stroke-width="1.0" />
<line x1="317.7" y1="534.7" x2="317.7" y2="537.7" stroke="#111" stroke-width="1.0" />
<line x1="335" y1="534.7" x2="335" y2="537.7" stroke="#111" stroke-width="1.0" />
<line x1="352.7" y1="534.7" x2="352.7" y2="537.7" stroke="#111" stroke-width="1.0" />
<line x1="290.3" y1="534.7" x2="290.3" y2="536.5" stroke="#111" stroke-width="0.7" />
<line x1="308.1" y1="534.7" x2="308.1" y2="536.5" stroke="#111" stroke-width="0.7" />
<line x1="326" y1="534.7" x2="326" y2="536.5" stroke="#111" stroke-width="0.7" />
<line x1="343.9" y1="534.7" x2="343.9" y2="536.5" stroke="#111" stroke-width="0.7" />
<line x1="361.7" y1="534.7" x2="361.7" y2="536.5" stroke="#111" stroke-width="0.7" />
<line x1="284.0" y1="534.7" x2="284.0" y2="536.5" stroke="#111" stroke-width="0.7" />
<line x1="288.45" y1="534.7" x2="288.45" y2="536.5" stroke="#111" stroke-width="0.7" />
<line x1="292.9" y1="534.7" x2="292.9" y2="536.5" stroke="#111" stroke-width="0.7" />
<line x1="297.35" y1="534.7" x2="297.35" y2="536.5" stroke="#111" stroke-width="0.7" />
<line x1="301.8" y1="534.7" x2="301.8" y2="536.5" stroke="#111" stroke-width="0.7" />
<line x1="306.25" y1="534.7" x2="306.25" y2="536.5" stroke="#111" stroke-width="0.7" />
<line x1="310.7" y1="534.7" x2="310.7" y2="536.5" stroke="#111" stroke-width="0.7" />
<line x1="315.15" y1="534.7" x2="315.15" y2="536.5" stroke="#111" stroke-width="0.7" />
<line x1="319.6" y1="534.7" x2="319.6" y2="536.5" stroke="#111" stroke-width="0.7" />
<line x1="324.05" y1="534.7" x2="324.05" y2="536.5" stroke="#111" stroke-width="0.7" />
<line x1="328.5" y1="534.7" x2="328.5" y2="536.5" stroke="#111" stroke-width="0.7" />
<line x1="332.95" y1="534.7" x2="332.95" y2="536.5" stroke="#111" stroke-width="0.7" />
<line x1="337.4" y1="534.7" x2="337.4" y2="536.5" stroke="#111" stroke-width="0.7" />
<line x1="341.85" y1="534.7" x2="341.85" y2="536.5" stroke="#111" stroke-width="0.7" />
<line x1="346.3" y1="534.7" x2="346.3" y2="536.5" stroke="#111" stroke-width="0.7" />
<line x1="350.75" y1="534.7" x2="350.75" y2="536.5" stroke="#111" stroke-width="0.7" />
<line x1="355.2" y1="534.7" x2="355.2" y2="536.5" stroke="#111" stroke-width="0.7" />
<line x1="359.65" y1="534.7" x2="359.65" y2="536.5" stroke="#111" stroke-width="0.7" />
<line x1="364.1" y1="534.7" x2="364.1" y2="536.5" stroke="#111" stroke-width="0.7" />
<line x1="368.55" y1="534.7" x2="368.55" y2="536.5" stroke="#111" stroke-width="0.7" />
<text x="300.5" y="549.6" font-size="9.3" fill="#1a1a1a" text-anchor="middle" font-weight="normal" font-style="normal" stroke="#1a1a1a" stroke-width="0.186" textLength="15.4" lengthAdjust="spacingAndGlyphs">100</text>
<text x="317.7" y="549.6" font-size="9.3" fill="#1a1a1a" text-anchor="middle" font-weight="normal" font-style="normal" stroke="#1a1a1a" stroke-width="0.186" textLength="15.4" lengthAdjust="spacingAndGlyphs">200</text>
<text x="335.0" y="549.6" font-size="9.3" fill="#1a1a1a" text-anchor="middle" font-weight="normal" font-style="normal" stroke="#1a1a1a" stroke-width="0.186" textLength="15.4" lengthAdjust="spacingAndGlyphs">300</text>
<text x="352.7" y="549.6" font-size="9.3" fill="#1a1a1a" text-anchor="middle" font-weight="normal" font-style="normal" stroke="#1a1a1a" stroke-width="0.186" textLength="15.4" lengthAdjust="spacingAndGlyphs">400</text>
<text x="326.05" y="564.8" font-size="10.5" fill="#1a1a1a" text-anchor="middle" font-weight="normal" font-style="normal" stroke="#1a1a1a" stroke-width="0.21" textLength="29.7" lengthAdjust="spacingAndGlyphs">THEMIS</text>
<line x1="434.7" y1="443.5" x2="434.7" y2="537.5" stroke="#111" stroke-width="1.2" />
<line x1="434.09999999999997" y1="536.9" x2="502.5" y2="536.9" stroke="#111" stroke-width="1.2" />
<line x1="431.3" y1="536.9" x2="434.7" y2="536.9" stroke="#111" stroke-width="1.0" />
<text x="427.8" y="540.35" font-size="9.8" fill="#1a1a1a" text-anchor="end" font-weight="normal" font-style="normal" stroke="#1a1a1a" stroke-width="0.196" >0</text>
<line x1="431.3" y1="521.65" x2="434.7" y2="521.65" stroke="#111" stroke-width="1.0" />
<text x="427.8" y="525.1" font-size="9.8" fill="#1a1a1a" text-anchor="end" font-weight="normal" font-style="normal" stroke="#1a1a1a" stroke-width="0.196" textLength="10.2" lengthAdjust="spacingAndGlyphs">50</text>
<line x1="431.3" y1="506.4" x2="434.7" y2="506.4" stroke="#111" stroke-width="1.0" />
<text x="427.8" y="509.84999999999997" font-size="9.8" fill="#1a1a1a" text-anchor="end" font-weight="normal" font-style="normal" stroke="#1a1a1a" stroke-width="0.196" textLength="15.3" lengthAdjust="spacingAndGlyphs">100</text>
<line x1="431.3" y1="491.15" x2="434.7" y2="491.15" stroke="#111" stroke-width="1.0" />
<text x="427.8" y="494.59999999999997" font-size="9.8" fill="#1a1a1a" text-anchor="end" font-weight="normal" font-style="normal" stroke="#1a1a1a" stroke-width="0.196" textLength="15.3" lengthAdjust="spacingAndGlyphs">150</text>
<line x1="431.3" y1="475.9" x2="434.7" y2="475.9" stroke="#111" stroke-width="1.0" />
<text x="427.8" y="479.34999999999997" font-size="9.8" fill="#1a1a1a" text-anchor="end" font-weight="normal" font-style="normal" stroke="#1a1a1a" stroke-width="0.196" textLength="15.3" lengthAdjust="spacingAndGlyphs">200</text>
<line x1="431.3" y1="460.65" x2="434.7" y2="460.65" stroke="#111" stroke-width="1.0" />
<text x="427.8" y="464.09999999999997" font-size="9.8" fill="#1a1a1a" text-anchor="end" font-weight="normal" font-style="normal" stroke="#1a1a1a" stroke-width="0.196" textLength="15.3" lengthAdjust="spacingAndGlyphs">250</text>
<line x1="431.3" y1="445.4" x2="434.7" y2="445.4" stroke="#111" stroke-width="1.0" />
<text x="427.8" y="448.84999999999997" font-size="9.8" fill="#1a1a1a" text-anchor="end" font-weight="normal" font-style="normal" stroke="#1a1a1a" stroke-width="0.196" textLength="15.3" lengthAdjust="spacingAndGlyphs">300</text>
<text transform="translate(403.8,488.9) rotate(-90)" font-size="9.9" fill="#1a1a1a" stroke="#1a1a1a" stroke-width="0.17" text-anchor="middle" textLength="86.8" lengthAdjust="spacingAndGlyphs">Expression level (MFI)</text>
<path d="M436.60 536.90V517.07H442.70V536.90" stroke="#62a6e0" fill="none" stroke-width="1.05" stroke-dasharray="3 2"/>
<path d="M439.65 519.21V514.94M438.05 519.21H441.25M438.05 514.94H441.25" stroke="#111" fill="none" stroke-width="0.9" />
<path d="M446.00 536.90V517.07H452.10V536.90" stroke="#e8952a" fill="none" stroke-width="1.05" stroke-dasharray="3 2"/>
<path d="M449.05 519.51V514.63M447.45 519.51H450.65M447.45 514.63H450.65" stroke="#111" fill="none" stroke-width="0.9" />
<path d="M456.00 536.90V518.60H461.50V536.90" stroke="#b0173e" fill="none" stroke-width="1.05" stroke-dasharray="3 2"/>
<path d="M458.75 521.04V516.16M457.15 521.04H460.35M457.15 516.16H460.35" stroke="#111" fill="none" stroke-width="0.9" />
<rect x="475.0" y="462.17" width="6.80" height="74.73" fill="#62a6e0"/>
<path d="M478.40 469.80V453.94M476.80 469.80H480.00M476.80 453.94H480.00" stroke="#111" fill="none" stroke-width="0.9" />
<rect x="484.5" y="487.19" width="6.70" height="49.71" fill="#e8952a"/>
<path d="M487.85 500.91V472.85M486.25 500.91H489.45M486.25 472.85H489.45" stroke="#111" fill="none" stroke-width="0.9" />
<rect x="494.4" y="499.38" width="6.80" height="37.51" fill="#b0173e"/>
<path d="M497.80 508.84V489.01M496.20 508.84H499.40M496.20 489.01H499.40" stroke="#111" fill="none" stroke-width="0.9" />
<path d="M477.8 450.7V446.8H495.5V451.6 M487.3 451.6H503.8" stroke="#111" fill="none" stroke-width="1.0" />
<text x="487" y="446.0" font-size="9.0" fill="#1a1a1a" text-anchor="middle" font-weight="normal" font-style="normal" stroke="#1a1a1a" stroke-width="0.18" >**</text>
<path d="M487.9 470.5V466.3H499V470.5" stroke="#111" fill="none" stroke-width="1.0" />
<text x="498.5" y="464.2" font-size="8.4" fill="#222" text-anchor="middle" font-weight="normal" font-style="normal" stroke="#222" stroke-width="0.168" textLength="28" lengthAdjust="spacingAndGlyphs"><tspan font-style="italic">p</tspan>=0.08</text>
<text x="439.6" y="548.0" font-size="9.4" fill="#62a6e0" text-anchor="middle" font-weight="normal" font-style="normal" stroke="#62a6e0" stroke-width="0.188" >P</text>
<text x="449.0" y="548.0" font-size="9.4" fill="#e8952a" text-anchor="middle" font-weight="normal" font-style="normal" stroke="#e8952a" stroke-width="0.188" >D</text>
<text x="458.7" y="548.0" font-size="9.4" fill="#b0173e" text-anchor="middle" font-weight="normal" font-style="normal" stroke="#b0173e" stroke-width="0.188" >N</text>
<text x="478.4" y="548.0" font-size="9.4" fill="#62a6e0" text-anchor="middle" font-weight="normal" font-style="normal" stroke="#62a6e0" stroke-width="0.188" >P</text>
<text x="487.8" y="548.0" font-size="9.4" fill="#e8952a" text-anchor="middle" font-weight="normal" font-style="normal" stroke="#e8952a" stroke-width="0.188" >D</text>
<text x="497.8" y="548.0" font-size="9.4" fill="#b0173e" text-anchor="middle" font-weight="normal" font-style="normal" stroke="#b0173e" stroke-width="0.188" >N</text>
<line x1="435.7" y1="554.4" x2="462.1" y2="554.4" stroke="#333" stroke-width="1.0" />
<line x1="474.2" y1="554.4" x2="501.2" y2="554.4" stroke="#333" stroke-width="1.0" />
<text x="391.3" y="565.9" font-size="10.0" fill="#1a1a1a" text-anchor="start" font-weight="normal" font-style="normal" stroke="#1a1a1a" stroke-width="0.2" textLength="39.3" lengthAdjust="spacingAndGlyphs">Antibody</text>
<text x="449.5" y="565.9" font-size="9.6" fill="#1a1a1a" text-anchor="middle" font-weight="normal" font-style="normal" stroke="#1a1a1a" stroke-width="0.192" >(-)</text>
<text x="488.5" y="565.9" font-size="9.6" fill="#1a1a1a" text-anchor="middle" font-weight="normal" font-style="normal" stroke="#1a1a1a" stroke-width="0.192" >(+)</text>
<defs><clipPath id="cl2"><rect x="282.2" y="593.2" width="89" height="66.4"/></clipPath></defs>
<g clip-path="url(#cl2)">
<defs><clipPath id="hu2"><path d="M292.80 659.60L292.80 659.60L294.50 655.53L296.00 644.68L297.50 626.83L299.00 611.69L300.20 604.91L301.20 601.74L302.00 605.36L302.80 608.07L303.60 616.66L304.60 634.74L305.80 650.56L307.20 657.79L308.40 659.60L308.40 659.60Z"/><path d="M292.80 659.60L292.80 659.60L294.50 655.08L296.00 643.78L297.50 625.70L299.00 611.01L300.20 605.36L301.20 602.65L302.20 608.75L303.20 622.31L304.30 639.26L305.50 651.69L306.80 657.79L308.00 659.60L308.00 659.60Z"/></clipPath></defs>
<path d="M308.00 659.60L308.00 659.60L309.20 659.49L315.40 658.24L322.50 656.44L326.90 653.72L329.60 648.75L331.30 642.65L333.10 634.29L334.90 618.47L336.30 604.00L337.50 600.39L338.60 603.10L339.80 613.27L341.20 627.96L342.80 643.78L344.50 654.63L346.50 658.92L347.50 659.60L347.50 659.60Z" stroke="none" fill="#b3cff0" stroke-width="1" />
<path d="M308.00 659.60L309.20 659.49L315.40 658.24L322.50 656.44L326.90 653.72L329.60 648.75L331.30 642.65L333.10 634.29L334.90 618.47L336.30 604.00L337.50 600.39L338.60 603.10L339.80 613.27L341.20 627.96L342.80 643.78L344.50 654.63L346.50 658.92L347.50 659.60" stroke="#5b9bd5" fill="none" stroke-width="0.9" />
<path d="M292.80 659.60L292.80 659.60L294.50 655.53L296.00 644.68L297.50 626.83L299.00 611.69L300.20 604.91L301.20 601.74L302.00 605.36L302.80 608.07L303.60 616.66L304.60 634.74L305.80 650.56L307.20 657.79L308.40 659.60L308.40 659.60Z" stroke="none" fill="#c87c52" stroke-width="1" />
<path d="M292.80 659.60L292.80 659.60L294.50 655.08L296.00 643.78L297.50 625.70L299.00 611.01L300.20 605.36L301.20 602.65L302.20 608.75L303.20 622.31L304.30 639.26L305.50 651.69L306.80 657.79L308.00 659.60L308.00 659.60Z" stroke="none" fill="#c87c52" stroke-width="1" />
<g clip-path="url(#hu2)">
<path d="M308.00 659.60L308.00 659.60L309.20 659.49L315.40 658.24L322.50 656.44L326.90 653.72L329.60 648.75L331.30 642.65L333.10 634.29L334.90 618.47L336.30 604.00L337.50 600.39L338.60 603.10L339.80 613.27L341.20 627.96L342.80 643.78L344.50 654.63L346.50 658.92L347.50 659.60L347.50 659.60Z" stroke="none" fill="#8c654d" stroke-width="1" />
<path d="M308.00 659.60L309.20 659.49L315.40 658.24L322.50 656.44L326.90 653.72L329.60 648.75L331.30 642.65L333.10 634.29L334.90 618.47L336.30 604.00L337.50 600.39L338.60 603.10L339.80 613.27L341.20 627.96L342.80 643.78L344.50 654.63L346.50 658.92L347.50 659.60" stroke="#474b44" fill="none" stroke-width="0.9" />
</g>
<path d="M292.80 659.60L294.50 655.53L296.00 644.68L297.50 626.83L299.00 611.69L300.20 604.91L301.20 601.74L302.00 605.36L302.80 608.07L303.60 616.66L304.60 634.74L305.80 650.56L307.20 657.79L308.40 659.60" stroke="#eea020" fill="none" stroke-width="1.0" />
<path d="M292.80 659.60L294.50 655.08L296.00 643.78L297.50 625.70L299.00 611.01L300.20 605.36L301.20 602.65L302.20 608.75L303.20 622.31L304.30 639.26L305.50 651.69L306.80 657.79L308.00 659.60" stroke="#a3122a" fill="none" stroke-width="1.1" />
<path d="M295 659.6 Q300 656.4 305 659.6Z" stroke="none" fill="#6b4a3a" stroke-width="1" opacity="0.7"/>
</g>
<rect x="282.2" y="593.2" width="89.0" height="66.39999999999998" fill="none" stroke="#111" stroke-width="1.3"/>
<line x1="279.0" y1="659.6" x2="282.2" y2="659.6" stroke="#111" stroke-width="1.0" />
<text x="275.09999999999997" y="663.0500000000001" font-size="9.8" fill="#1a1a1a" text-anchor="end" font-weight="normal" font-style="normal" stroke="#1a1a1a" stroke-width="0.196" >0</text>
<line x1="279.0" y1="648.3000000000001" x2="282.2" y2="648.3000000000001" stroke="#111" stroke-width="1.0" />
<text x="275.09999999999997" y="651.7500000000001" font-size="9.8" fill="#1a1a1a" text-anchor="end" font-weight="normal" font-style="normal" stroke="#1a1a1a" stroke-width="0.196" textLength="9.8" lengthAdjust="spacingAndGlyphs">50</text>
<line x1="279.0" y1="637.0" x2="282.2" y2="637.0" stroke="#111" stroke-width="1.0" />
<text x="275.09999999999997" y="640.45" font-size="9.8" fill="#1a1a1a" text-anchor="end" font-weight="normal" font-style="normal" stroke="#1a1a1a" stroke-width="0.196" textLength="14.7" lengthAdjust="spacingAndGlyphs">100</text>
<line x1="279.0" y1="625.7" x2="282.2" y2="625.7" stroke="#111" stroke-width="1.0" />
<text x="275.09999999999997" y="629.1500000000001" font-size="9.8" fill="#1a1a1a" text-anchor="end" font-weight="normal" font-style="normal" stroke="#1a1a1a" stroke-width="0.196" textLength="14.7" lengthAdjust="spacingAndGlyphs">150</text>
<line x1="279.0" y1="614.4" x2="282.2" y2="614.4" stroke="#111" stroke-width="1.0" />
<text x="275.09999999999997" y="617.85" font-size="9.8" fill="#1a1a1a" text-anchor="end" font-weight="normal" font-style="normal" stroke="#1a1a1a" stroke-width="0.196" textLength="14.7" lengthAdjust="spacingAndGlyphs">200</text>
<line x1="279.0" y1="603.1" x2="282.2" y2="603.1" stroke="#111" stroke-width="1.0" />
<text x="275.09999999999997" y="606.5500000000001" font-size="9.8" fill="#1a1a1a" text-anchor="end" font-weight="normal" font-style="normal" stroke="#1a1a1a" stroke-width="0.196" textLength="14.7" lengthAdjust="spacingAndGlyphs">250</text>
<line x1="280.4" y1="653.95" x2="282.2" y2="653.95" stroke="#111" stroke-width="0.7" />
<line x1="280.4" y1="642.65" x2="282.2" y2="642.65" stroke="#111" stroke-width="0.7" />
<line x1="280.4" y1="631.35" x2="282.2" y2="631.35" stroke="#111" stroke-width="0.7" />
<line x1="280.4" y1="620.0500000000001" x2="282.2" y2="620.0500000000001" stroke="#111" stroke-width="0.7" />
<line x1="280.4" y1="608.75" x2="282.2" y2="608.75" stroke="#111" stroke-width="0.7" />
<line x1="292.8" y1="660.2" x2="292.8" y2="663.2" stroke="#111" stroke-width="1.0" />
<line x1="326.6" y1="660.2" x2="326.6" y2="663.2" stroke="#111" stroke-width="1.0" />
<line x1="350.5" y1="660.2" x2="350.5" y2="663.2" stroke="#111" stroke-width="1.0" />
<line x1="284.0" y1="660.2" x2="284.0" y2="662.0" stroke="#111" stroke-width="0.7" />
<line x1="286.9" y1="660.2" x2="286.9" y2="662.0" stroke="#111" stroke-width="0.7" />
<line x1="289.8" y1="660.2" x2="289.8" y2="662.0" stroke="#111" stroke-width="0.7" />
<line x1="292.7" y1="660.2" x2="292.7" y2="662.0" stroke="#111" stroke-width="0.7" />
<line x1="295.6" y1="660.2" x2="295.6" y2="662.0" stroke="#111" stroke-width="0.7" />
<line x1="298.5" y1="660.2" x2="298.5" y2="662.0" stroke="#111" stroke-width="0.7" />
<line x1="301.4" y1="660.2" x2="301.4" y2="662.0" stroke="#111" stroke-width="0.7" />
<line x1="304.3" y1="660.2" x2="304.3" y2="662.0" stroke="#111" stroke-width="0.7" />
<line x1="307.2" y1="660.2" x2="307.2" y2="662.0" stroke="#111" stroke-width="0.7" />
<line x1="310.1" y1="660.2" x2="310.1" y2="662.0" stroke="#111" stroke-width="0.7" />
<line x1="313.0" y1="660.2" x2="313.0" y2="662.0" stroke="#111" stroke-width="0.7" />
<line x1="315.9" y1="660.2" x2="315.9" y2="662.0" stroke="#111" stroke-width="0.7" />
<line x1="318.8" y1="660.2" x2="318.8" y2="662.0" stroke="#111" stroke-width="0.7" />
<line x1="321.7" y1="660.2" x2="321.7" y2="662.0" stroke="#111" stroke-width="0.7" />
<line x1="324.6" y1="660.2" x2="324.6" y2="662.0" stroke="#111" stroke-width="0.7" />
<line x1="327.5" y1="660.2" x2="327.5" y2="662.0" stroke="#111" stroke-width="0.7" />
<line x1="330.4" y1="660.2" x2="330.4" y2="662.0" stroke="#111" stroke-width="0.7" />
<line x1="333.3" y1="660.2" x2="333.3" y2="662.0" stroke="#111" stroke-width="0.7" />
<line x1="336.2" y1="660.2" x2="336.2" y2="662.0" stroke="#111" stroke-width="0.7" />
<line x1="339.1" y1="660.2" x2="339.1" y2="662.0" stroke="#111" stroke-width="0.7" />
<line x1="342.0" y1="660.2" x2="342.0" y2="662.0" stroke="#111" stroke-width="0.7" />
<line x1="344.9" y1="660.2" x2="344.9" y2="662.0" stroke="#111" stroke-width="0.7" />
<line x1="347.8" y1="660.2" x2="347.8" y2="662.0" stroke="#111" stroke-width="0.7" />
<line x1="350.7" y1="660.2" x2="350.7" y2="662.0" stroke="#111" stroke-width="0.7" />
<line x1="353.6" y1="660.2" x2="353.6" y2="662.0" stroke="#111" stroke-width="0.7" />
<line x1="356.5" y1="660.2" x2="356.5" y2="662.0" stroke="#111" stroke-width="0.7" />
<line x1="359.4" y1="660.2" x2="359.4" y2="662.0" stroke="#111" stroke-width="0.7" />
<line x1="362.3" y1="660.2" x2="362.3" y2="662.0" stroke="#111" stroke-width="0.7" />
<line x1="365.2" y1="660.2" x2="365.2" y2="662.0" stroke="#111" stroke-width="0.7" />
<line x1="368.1" y1="660.2" x2="368.1" y2="662.0" stroke="#111" stroke-width="0.7" />
<text x="292.8" y="675.4" font-size="9.4" fill="#1a1a1a" text-anchor="middle" font-weight="normal" font-style="normal" stroke="#1a1a1a" stroke-width="0.188" >0</text>
<text x="320.60" y="675.4" font-size="9.6" fill="#1a1a1a" text-anchor="start" font-weight="normal" font-style="normal" stroke="#1a1a1a" stroke-width="0.192" textLength="8.7" lengthAdjust="spacingAndGlyphs">10</text>
<text x="329.60" y="671.50" font-size="6.2" fill="#1a1a1a" text-anchor="start" font-weight="normal" font-style="normal" stroke="#1a1a1a" stroke-width="0.05" >3</text>
<text x="344.10" y="675.4" font-size="9.6" fill="#1a1a1a" text-anchor="start" font-weight="normal" font-style="normal" stroke="#1a1a1a" stroke-width="0.192" textLength="8.7" lengthAdjust="spacingAndGlyphs">10</text>
<text x="353.10" y="671.50" font-size="6.2" fill="#1a1a1a" text-anchor="start" font-weight="normal" font-style="normal" stroke="#1a1a1a" stroke-width="0.05" >4</text>
<text x="326.55" y="690.8" font-size="10.8" fill="#1a1a1a" text-anchor="middle" font-weight="normal" font-style="normal" stroke="#1a1a1a" stroke-width="0.216" textLength="20.9" lengthAdjust="spacingAndGlyphs">LAIR1</text>
<line x1="434.7" y1="585.5" x2="434.7" y2="680.2" stroke="#111" stroke-width="1.2" />
<line x1="434.09999999999997" y1="679.6" x2="464.8" y2="679.6" stroke="#111" stroke-width="1.2" />
<line x1="431.3" y1="679.6" x2="434.7" y2="679.6" stroke="#111" stroke-width="1.0" />
<text x="427.8" y="683.0500000000001" font-size="9.8" fill="#1a1a1a" text-anchor="end" font-weight="normal" font-style="normal" stroke="#1a1a1a" stroke-width="0.196" >0</text>
<line x1="431.3" y1="664.5666666666667" x2="434.7" y2="664.5666666666667" stroke="#111" stroke-width="1.0" />
<text x="427.8" y="668.0166666666668" font-size="9.8" fill="#1a1a1a" text-anchor="end" font-weight="normal" font-style="normal" stroke="#1a1a1a" stroke-width="0.196" textLength="15.3" lengthAdjust="spacingAndGlyphs">500</text>
<line x1="431.3" y1="649.5333333333333" x2="434.7" y2="649.5333333333333" stroke="#111" stroke-width="1.0" />
<text x="427.8" y="652.9833333333333" font-size="9.8" fill="#1a1a1a" text-anchor="end" font-weight="normal" font-style="normal" stroke="#1a1a1a" stroke-width="0.196" textLength="20.4" lengthAdjust="spacingAndGlyphs">1000</text>
<line x1="431.3" y1="634.5" x2="434.7" y2="634.5" stroke="#111" stroke-width="1.0" />
<text x="427.8" y="637.95" font-size="9.8" fill="#1a1a1a" text-anchor="end" font-weight="normal" font-style="normal" stroke="#1a1a1a" stroke-width="0.196" textLength="20.4" lengthAdjust="spacingAndGlyphs">1500</text>
<line x1="431.3" y1="619.4666666666667" x2="434.7" y2="619.4666666666667" stroke="#111" stroke-width="1.0" />
<text x="427.8" y="622.9166666666667" font-size="9.8" fill="#1a1a1a" text-anchor="end" font-weight="normal" font-style="normal" stroke="#1a1a1a" stroke-width="0.196" textLength="20.4" lengthAdjust="spacingAndGlyphs">2000</text>
<line x1="431.3" y1="604.4333333333333" x2="434.7" y2="604.4333333333333" stroke="#111" stroke-width="1.0" />
<text x="427.8" y="607.8833333333333" font-size="9.8" fill="#1a1a1a" text-anchor="end" font-weight="normal" font-style="normal" stroke="#1a1a1a" stroke-width="0.196" textLength="20.4" lengthAdjust="spacingAndGlyphs">2500</text>
<line x1="431.3" y1="589.4" x2="434.7" y2="589.4" stroke="#111" stroke-width="1.0" />
<text x="427.8" y="592.85" font-size="9.8" fill="#1a1a1a" text-anchor="end" font-weight="normal" font-style="normal" stroke="#1a1a1a" stroke-width="0.196" textLength="20.4" lengthAdjust="spacingAndGlyphs">3000</text>
<text transform="translate(398.5,633.2) rotate(-90)" font-size="9.9" fill="#1a1a1a" stroke="#1a1a1a" stroke-width="0.17" text-anchor="middle" textLength="84.8" lengthAdjust="spacingAndGlyphs">Expression level (MFI)</text>
<rect x="436.0" y="607.44" width="7.30" height="72.16" fill="#62a6e0"/>
<path d="M439.65 617.96V596.92M438.05 617.96H441.25M438.05 596.92H441.25" stroke="#111" fill="none" stroke-width="0.9" />
<rect x="446.8" y="667.57" width="6.40" height="12.03" fill="#e8952a"/>
<path d="M450.00 673.59V661.56M448.40 673.59H451.60M448.40 661.56H451.60" stroke="#111" fill="none" stroke-width="0.9" />
<rect x="457.3" y="675.99" width="6.20" height="3.61" fill="#b0173e"/>
<path d="M460.40 677.19V674.49M458.80 677.19H462.00M458.80 674.49H462.00" stroke="#111" fill="none" stroke-width="0.9" />
<path d="M439.2 593.3V588.6H457.5V593.3" stroke="#111" fill="none" stroke-width="1.0" />
<text x="448.5" y="588.4" font-size="9.0" fill="#1a1a1a" text-anchor="middle" font-weight="normal" font-style="normal" stroke="#1a1a1a" stroke-width="0.18" >**</text>
<path d="M448.7 658.3V653.6H460.2V658.3" stroke="#111" fill="none" stroke-width="1.0" />
<text x="458.7" y="652.2" font-size="8.4" fill="#222" text-anchor="middle" font-weight="normal" font-style="normal" stroke="#222" stroke-width="0.168" textLength="28" lengthAdjust="spacingAndGlyphs"><tspan font-style="italic">p</tspan>=0.07</text>
<text x="439.2" y="692.0" font-size="9.4" fill="#62a6e0" text-anchor="middle" font-weight="normal" font-style="normal" stroke="#62a6e0" stroke-width="0.188" >P</text>
<text x="449.6" y="692.0" font-size="9.4" fill="#e8952a" text-anchor="middle" font-weight="normal" font-style="normal" stroke="#e8952a" stroke-width="0.188" >D</text>
<text x="460.2" y="692.0" font-size="9.4" fill="#b0173e" text-anchor="middle" font-weight="normal" font-style="normal" stroke="#b0173e" stroke-width="0.188" >N</text>
<defs><clipPath id="cl3"><rect x="282" y="711.6" width="90.4" height="66.3"/></clipPath></defs>
<g clip-path="url(#cl3)">
<defs><clipPath id="hu3"><path d="M296.00 777.90L296.00 777.90L298.30 777.55L303.80 775.45L309.30 771.25L312.90 764.60L316.60 757.60L319.30 750.25L321.10 737.65L323.00 724.70L325.70 718.40L327.50 719.10L329.40 728.55L331.20 739.40L333.90 752.00L336.70 761.10L340.30 770.20L344.00 775.45L347.60 777.55L350.00 777.90L350.00 777.90Z"/><path d="M296.00 777.90L296.00 777.90L298.30 777.55L303.80 775.80L309.30 771.95L312.90 765.30L316.60 758.65L319.30 752.70L322.00 740.10L324.50 730.65L327.90 722.60L329.40 728.90L331.20 738.70L333.90 750.60L336.70 759.70L340.30 768.80L344.00 774.75L347.60 777.20L352.00 777.90L352.00 777.90Z"/></clipPath></defs>
<path d="M283.70 777.90L283.70 777.73L291.00 777.02L296.50 774.05L301.00 769.50L304.70 762.85L307.40 756.55L309.60 748.50L312.00 742.90L313.80 733.80L315.60 728.20L317.50 721.90L318.80 725.40L320.20 731.00L321.70 737.30L322.40 744.65L323.90 753.75L326.60 764.60L329.40 773.00L333.00 774.75L338.50 776.67L344.00 777.55L350.00 777.90L350.00 777.90Z" stroke="none" fill="#b3cff0" stroke-width="1" />
<path d="M283.70 777.73L291.00 777.02L296.50 774.05L301.00 769.50L304.70 762.85L307.40 756.55L309.60 748.50L312.00 742.90L313.80 733.80L315.60 728.20L317.50 721.90L318.80 725.40L320.20 731.00L321.70 737.30L322.40 744.65L323.90 753.75L326.60 764.60L329.40 773.00L333.00 774.75L338.50 776.67L344.00 777.55L350.00 777.90" stroke="#5b9bd5" fill="none" stroke-width="0.9" />
<path d="M296.00 777.90L296.00 777.90L298.30 777.55L303.80 775.45L309.30 771.25L312.90 764.60L316.60 757.60L319.30 750.25L321.10 737.65L323.00 724.70L325.70 718.40L327.50 719.10L329.40 728.55L331.20 739.40L333.90 752.00L336.70 761.10L340.30 770.20L344.00 775.45L347.60 777.55L350.00 777.90L350.00 777.90Z" stroke="none" fill="#c87c52" stroke-width="1" />
<path d="M296.00 777.90L296.00 777.90L298.30 777.55L303.80 775.80L309.30 771.95L312.90 765.30L316.60 758.65L319.30 752.70L322.00 740.10L324.50 730.65L327.90 722.60L329.40 728.90L331.20 738.70L333.90 750.60L336.70 759.70L340.30 768.80L344.00 774.75L347.60 777.20L352.00 777.90L352.00 777.90Z" stroke="none" fill="#c87c52" stroke-width="1" />
<g clip-path="url(#hu3)">
<path d="M283.70 777.90L283.70 777.73L291.00 777.02L296.50 774.05L301.00 769.50L304.70 762.85L307.40 756.55L309.60 748.50L312.00 742.90L313.80 733.80L315.60 728.20L317.50 721.90L318.80 725.40L320.20 731.00L321.70 737.30L322.40 744.65L323.90 753.75L326.60 764.60L329.40 773.00L333.00 774.75L338.50 776.67L344.00 777.55L350.00 777.90L350.00 777.90Z" stroke="none" fill="#8c654d" stroke-width="1" />
<path d="M283.70 777.73L291.00 777.02L296.50 774.05L301.00 769.50L304.70 762.85L307.40 756.55L309.60 748.50L312.00 742.90L313.80 733.80L315.60 728.20L317.50 721.90L318.80 725.40L320.20 731.00L321.70 737.30L322.40 744.65L323.90 753.75L326.60 764.60L329.40 773.00L333.00 774.75L338.50 776.67L344.00 777.55L350.00 777.90" stroke="#474b44" fill="none" stroke-width="0.9" />
</g>
<path d="M296.00 777.90L298.30 777.55L303.80 775.45L309.30 771.25L312.90 764.60L316.60 757.60L319.30 750.25L321.10 737.65L323.00 724.70L325.70 718.40L327.50 719.10L329.40 728.55L331.20 739.40L333.90 752.00L336.70 761.10L340.30 770.20L344.00 775.45L347.60 777.55L350.00 777.90" stroke="#eea020" fill="none" stroke-width="1.0" />
<path d="M296.00 777.90L298.30 777.55L303.80 775.80L309.30 771.95L312.90 765.30L316.60 758.65L319.30 752.70L322.00 740.10L324.50 730.65L327.90 722.60L329.40 728.90L331.20 738.70L333.90 750.60L336.70 759.70L340.30 768.80L344.00 774.75L347.60 777.20L352.00 777.90" stroke="#a3122a" fill="none" stroke-width="1.1" />
</g>
<rect x="282.0" y="711.6" width="90.39999999999998" height="66.29999999999995" fill="none" stroke="#111" stroke-width="1.3"/>
<line x1="278.8" y1="777.9" x2="282.0" y2="777.9" stroke="#111" stroke-width="1.0" />
<text x="274.9" y="781.35" font-size="9.8" fill="#1a1a1a" text-anchor="end" font-weight="normal" font-style="normal" stroke="#1a1a1a" stroke-width="0.196" >0</text>
<line x1="278.8" y1="760.4" x2="282.0" y2="760.4" stroke="#111" stroke-width="1.0" />
<text x="274.9" y="763.85" font-size="9.8" fill="#1a1a1a" text-anchor="end" font-weight="normal" font-style="normal" stroke="#1a1a1a" stroke-width="0.196" textLength="9.8" lengthAdjust="spacingAndGlyphs">50</text>
<line x1="278.8" y1="742.9" x2="282.0" y2="742.9" stroke="#111" stroke-width="1.0" />
<text x="274.9" y="746.35" font-size="9.8" fill="#1a1a1a" text-anchor="end" font-weight="normal" font-style="normal" stroke="#1a1a1a" stroke-width="0.196" textLength="14.7" lengthAdjust="spacingAndGlyphs">100</text>
<line x1="278.8" y1="725.4" x2="282.0" y2="725.4" stroke="#111" stroke-width="1.0" />
<text x="274.9" y="728.85" font-size="9.8" fill="#1a1a1a" text-anchor="end" font-weight="normal" font-style="normal" stroke="#1a1a1a" stroke-width="0.196" textLength="14.7" lengthAdjust="spacingAndGlyphs">150</text>
<line x1="280.2" y1="769.15" x2="282.0" y2="769.15" stroke="#111" stroke-width="0.7" />
<line x1="280.2" y1="751.65" x2="282.0" y2="751.65" stroke="#111" stroke-width="0.7" />
<line x1="280.2" y1="734.15" x2="282.0" y2="734.15" stroke="#111" stroke-width="0.7" />
<line x1="280.2" y1="716.65" x2="282.0" y2="716.65" stroke="#111" stroke-width="0.7" />
<line x1="294.6" y1="778.5" x2="294.6" y2="781.5" stroke="#111" stroke-width="1.0" />
<line x1="335" y1="778.5" x2="335" y2="781.5" stroke="#111" stroke-width="1.0" />
<line x1="361.1" y1="778.5" x2="361.1" y2="781.5" stroke="#111" stroke-width="1.0" />
<line x1="284.0" y1="778.5" x2="284.0" y2="780.3" stroke="#111" stroke-width="0.7" />
<line x1="286.9" y1="778.5" x2="286.9" y2="780.3" stroke="#111" stroke-width="0.7" />
<line x1="289.8" y1="778.5" x2="289.8" y2="780.3" stroke="#111" stroke-width="0.7" />
<line x1="292.7" y1="778.5" x2="292.7" y2="780.3" stroke="#111" stroke-width="0.7" />
<line x1="295.6" y1="778.5" x2="295.6" y2="780.3" stroke="#111" stroke-width="0.7" />
<line x1="298.5" y1="778.5" x2="298.5" y2="780.3" stroke="#111" stroke-width="0.7" />
<line x1="301.4" y1="778.5" x2="301.4" y2="780.3" stroke="#111" stroke-width="0.7" />
<line x1="304.3" y1="778.5" x2="304.3" y2="780.3" stroke="#111" stroke-width="0.7" />
<line x1="307.2" y1="778.5" x2="307.2" y2="780.3" stroke="#111" stroke-width="0.7" />
<line x1="310.1" y1="778.5" x2="310.1" y2="780.3" stroke="#111" stroke-width="0.7" />
<line x1="313.0" y1="778.5" x2="313.0" y2="780.3" stroke="#111" stroke-width="0.7" />
<line x1="315.9" y1="778.5" x2="315.9" y2="780.3" stroke="#111" stroke-width="0.7" />
<line x1="318.8" y1="778.5" x2="318.8" y2="780.3" stroke="#111" stroke-width="0.7" />
<line x1="321.7" y1="778.5" x2="321.7" y2="780.3" stroke="#111" stroke-width="0.7" />
<line x1="324.6" y1="778.5" x2="324.6" y2="780.3" stroke="#111" stroke-width="0.7" />
<line x1="327.5" y1="778.5" x2="327.5" y2="780.3" stroke="#111" stroke-width="0.7" />
<line x1="330.4" y1="778.5" x2="330.4" y2="780.3" stroke="#111" stroke-width="0.7" />
<line x1="333.3" y1="778.5" x2="333.3" y2="780.3" stroke="#111" stroke-width="0.7" />
<line x1="336.2" y1="778.5" x2="336.2" y2="780.3" stroke="#111" stroke-width="0.7" />
<line x1="339.1" y1="778.5" x2="339.1" y2="780.3" stroke="#111" stroke-width="0.7" />
<line x1="342.0" y1="778.5" x2="342.0" y2="780.3" stroke="#111" stroke-width="0.7" />
<line x1="344.9" y1="778.5" x2="344.9" y2="780.3" stroke="#111" stroke-width="0.7" />
<line x1="347.8" y1="778.5" x2="347.8" y2="780.3" stroke="#111" stroke-width="0.7" />
<line x1="350.7" y1="778.5" x2="350.7" y2="780.3" stroke="#111" stroke-width="0.7" />
<line x1="353.6" y1="778.5" x2="353.6" y2="780.3" stroke="#111" stroke-width="0.7" />
<line x1="356.5" y1="778.5" x2="356.5" y2="780.3" stroke="#111" stroke-width="0.7" />
<line x1="359.4" y1="778.5" x2="359.4" y2="780.3" stroke="#111" stroke-width="0.7" />
<line x1="362.3" y1="778.5" x2="362.3" y2="780.3" stroke="#111" stroke-width="0.7" />
<line x1="365.2" y1="778.5" x2="365.2" y2="780.3" stroke="#111" stroke-width="0.7" />
<line x1="368.1" y1="778.5" x2="368.1" y2="780.3" stroke="#111" stroke-width="0.7" />
<line x1="371.0" y1="778.5" x2="371.0" y2="780.3" stroke="#111" stroke-width="0.7" />
<text x="294.6" y="793.0" font-size="9.4" fill="#1a1a1a" text-anchor="middle" font-weight="normal" font-style="normal" stroke="#1a1a1a" stroke-width="0.188" >0</text>
<text x="328.90" y="793.0" font-size="9.6" fill="#1a1a1a" text-anchor="start" font-weight="normal" font-style="normal" stroke="#1a1a1a" stroke-width="0.192" textLength="8.7" lengthAdjust="spacingAndGlyphs">10</text>
<text x="337.90" y="789.10" font-size="6.2" fill="#1a1a1a" text-anchor="start" font-weight="normal" font-style="normal" stroke="#1a1a1a" stroke-width="0.05" >3</text>
<text x="354.70" y="793.0" font-size="9.6" fill="#1a1a1a" text-anchor="start" font-weight="normal" font-style="normal" stroke="#1a1a1a" stroke-width="0.192" textLength="8.7" lengthAdjust="spacingAndGlyphs">10</text>
<text x="363.70" y="789.10" font-size="6.2" fill="#1a1a1a" text-anchor="start" font-weight="normal" font-style="normal" stroke="#1a1a1a" stroke-width="0.05" >4</text>
<text x="326.75" y="808.7" font-size="10.8" fill="#1a1a1a" text-anchor="middle" font-weight="normal" font-style="normal" stroke="#1a1a1a" stroke-width="0.216" textLength="17.5" lengthAdjust="spacingAndGlyphs">PD-1</text>
<line x1="434.2" y1="702.5" x2="434.2" y2="798.2" stroke="#111" stroke-width="1.2" />
<line x1="433.59999999999997" y1="797.6" x2="467.2" y2="797.6" stroke="#111" stroke-width="1.2" />
<line x1="430.8" y1="797.6" x2="434.2" y2="797.6" stroke="#111" stroke-width="1.0" />
<text x="427.3" y="801.0500000000001" font-size="9.8" fill="#1a1a1a" text-anchor="end" font-weight="normal" font-style="normal" stroke="#1a1a1a" stroke-width="0.196" >0</text>
<line x1="430.8" y1="774.925" x2="434.2" y2="774.925" stroke="#111" stroke-width="1.0" />
<text x="427.3" y="778.375" font-size="9.8" fill="#1a1a1a" text-anchor="end" font-weight="normal" font-style="normal" stroke="#1a1a1a" stroke-width="0.196" textLength="15.3" lengthAdjust="spacingAndGlyphs">500</text>
<line x1="430.8" y1="752.25" x2="434.2" y2="752.25" stroke="#111" stroke-width="1.0" />
<text x="427.3" y="755.7" font-size="9.8" fill="#1a1a1a" text-anchor="end" font-weight="normal" font-style="normal" stroke="#1a1a1a" stroke-width="0.196" textLength="20.4" lengthAdjust="spacingAndGlyphs">1000</text>
<line x1="430.8" y1="729.575" x2="434.2" y2="729.575" stroke="#111" stroke-width="1.0" />
<text x="427.3" y="733.0250000000001" font-size="9.8" fill="#1a1a1a" text-anchor="end" font-weight="normal" font-style="normal" stroke="#1a1a1a" stroke-width="0.196" textLength="20.4" lengthAdjust="spacingAndGlyphs">1500</text>
<line x1="430.8" y1="706.9" x2="434.2" y2="706.9" stroke="#111" stroke-width="1.0" />
<text x="427.3" y="710.35" font-size="9.8" fill="#1a1a1a" text-anchor="end" font-weight="normal" font-style="normal" stroke="#1a1a1a" stroke-width="0.196" textLength="20.4" lengthAdjust="spacingAndGlyphs">2000</text>
<text transform="translate(399.5,750.8) rotate(-90)" font-size="9.9" fill="#1a1a1a" stroke="#1a1a1a" stroke-width="0.17" text-anchor="middle" textLength="85.5" lengthAdjust="spacingAndGlyphs">Expression level (MFI)</text>
<rect x="436.1" y="774.02" width="6.70" height="23.58" fill="#62a6e0"/>
<path d="M439.45 780.82V766.76M437.85 780.82H441.05M437.85 766.76H441.05" stroke="#111" fill="none" stroke-width="0.9" />
<rect x="447.4" y="748.17" width="6.70" height="49.43" fill="#e8952a"/>
<path d="M450.75 764.95V731.84M449.15 764.95H452.35M449.15 731.84H452.35" stroke="#111" fill="none" stroke-width="0.9" />
<rect x="458.9" y="750.89" width="7.00" height="46.71" fill="#b0173e"/>
<path d="M462.40 768.12V733.66M460.80 768.12H464.00M460.80 733.66H464.00" stroke="#111" fill="none" stroke-width="0.9" />
<path d="M439.5 729.5V724.6H450.4V729.5" stroke="#111" fill="none" stroke-width="1.0" />
<text x="449.2" y="723.0" font-size="8.4" fill="#222" text-anchor="middle" font-weight="normal" font-style="normal" stroke="#222" stroke-width="0.168" textLength="28" lengthAdjust="spacingAndGlyphs"><tspan font-style="italic">p</tspan>=0.07</text>
<text x="439.5" y="809.6" font-size="9.4" fill="#62a6e0" text-anchor="middle" font-weight="normal" font-style="normal" stroke="#62a6e0" stroke-width="0.188" >P</text>
<text x="450.4" y="809.6" font-size="9.4" fill="#e8952a" text-anchor="middle" font-weight="normal" font-style="normal" stroke="#e8952a" stroke-width="0.188" >D</text>
<text x="461.9" y="809.6" font-size="9.4" fill="#b0173e" text-anchor="middle" font-weight="normal" font-style="normal" stroke="#b0173e" stroke-width="0.188" >N</text>
</g>
<rect x="0" y="0" width="520" height="1.5" fill="#000"/><rect x="0" y="0" width="1.4" height="818" fill="#000"/><rect x="518.6" y="0" width="1.4" height="818" fill="#000"/><rect x="0" y="816.2" width="520" height="1.8" fill="#000"/>
</svg></body></html>
